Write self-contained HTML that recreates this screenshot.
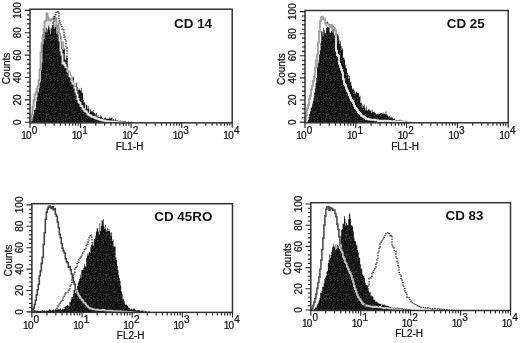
<!DOCTYPE html>
<html><head><meta charset="utf-8"><style>
html,body{margin:0;padding:0;background:#fff;width:520px;height:343px;overflow:hidden}
svg{display:block}
text{font-family:"Liberation Sans",sans-serif;stroke:#111;stroke-width:0.22px}
</style></head><body><svg width="520" height="343" viewBox="0 0 520 343" font-family='"Liberation Sans", sans-serif' fill="#111"><defs><pattern id="spk" width="20" height="20" patternUnits="userSpaceOnUse"><rect width="20" height="20" fill="#121212"/><rect x="1" y="0" width="1" height="1" fill="#323232"/><rect x="2" y="0" width="1" height="1" fill="#383838"/><rect x="5" y="0" width="1" height="1" fill="#2e2e2e"/><rect x="6" y="0" width="1" height="1" fill="#202020"/><rect x="8" y="0" width="1" height="1" fill="#202020"/><rect x="10" y="0" width="1" height="1" fill="#303030"/><rect x="11" y="0" width="1" height="1" fill="#252525"/><rect x="14" y="0" width="1" height="1" fill="#303030"/><rect x="17" y="0" width="1" height="1" fill="#393939"/><rect x="18" y="0" width="1" height="1" fill="#2b2b2b"/><rect x="19" y="0" width="1" height="1" fill="#212121"/><rect x="3" y="1" width="1" height="1" fill="#303030"/><rect x="7" y="1" width="1" height="1" fill="#1f1f1f"/><rect x="15" y="1" width="1" height="1" fill="#232323"/><rect x="17" y="1" width="1" height="1" fill="#303030"/><rect x="3" y="2" width="1" height="1" fill="#2e2e2e"/><rect x="6" y="2" width="1" height="1" fill="#2d2d2d"/><rect x="9" y="2" width="1" height="1" fill="#2f2f2f"/><rect x="1" y="3" width="1" height="1" fill="#343434"/><rect x="13" y="3" width="1" height="1" fill="#272727"/><rect x="14" y="3" width="1" height="1" fill="#252525"/><rect x="18" y="3" width="1" height="1" fill="#2a2a2a"/><rect x="3" y="4" width="1" height="1" fill="#2b2b2b"/><rect x="7" y="4" width="1" height="1" fill="#202020"/><rect x="8" y="4" width="1" height="1" fill="#252525"/><rect x="10" y="4" width="1" height="1" fill="#383838"/><rect x="12" y="4" width="1" height="1" fill="#1e1e1e"/><rect x="13" y="4" width="1" height="1" fill="#2f2f2f"/><rect x="1" y="5" width="1" height="1" fill="#3a3a3a"/><rect x="10" y="5" width="1" height="1" fill="#242424"/><rect x="12" y="5" width="1" height="1" fill="#313131"/><rect x="13" y="5" width="1" height="1" fill="#1e1e1e"/><rect x="18" y="5" width="1" height="1" fill="#242424"/><rect x="0" y="6" width="1" height="1" fill="#262626"/><rect x="4" y="6" width="1" height="1" fill="#2d2d2d"/><rect x="8" y="6" width="1" height="1" fill="#212121"/><rect x="14" y="6" width="1" height="1" fill="#2e2e2e"/><rect x="19" y="6" width="1" height="1" fill="#323232"/><rect x="2" y="7" width="1" height="1" fill="#292929"/><rect x="5" y="7" width="1" height="1" fill="#2f2f2f"/><rect x="8" y="7" width="1" height="1" fill="#373737"/><rect x="11" y="7" width="1" height="1" fill="#252525"/><rect x="14" y="7" width="1" height="1" fill="#2e2e2e"/><rect x="0" y="8" width="1" height="1" fill="#313131"/><rect x="7" y="8" width="1" height="1" fill="#252525"/><rect x="13" y="8" width="1" height="1" fill="#323232"/><rect x="17" y="8" width="1" height="1" fill="#2a2a2a"/><rect x="1" y="9" width="1" height="1" fill="#373737"/><rect x="3" y="9" width="1" height="1" fill="#353535"/><rect x="8" y="9" width="1" height="1" fill="#222222"/><rect x="9" y="9" width="1" height="1" fill="#303030"/><rect x="12" y="9" width="1" height="1" fill="#383838"/><rect x="16" y="9" width="1" height="1" fill="#2f2f2f"/><rect x="17" y="9" width="1" height="1" fill="#1e1e1e"/><rect x="0" y="10" width="1" height="1" fill="#353535"/><rect x="5" y="10" width="1" height="1" fill="#262626"/><rect x="6" y="10" width="1" height="1" fill="#2e2e2e"/><rect x="7" y="10" width="1" height="1" fill="#303030"/><rect x="11" y="10" width="1" height="1" fill="#353535"/><rect x="1" y="11" width="1" height="1" fill="#2c2c2c"/><rect x="5" y="11" width="1" height="1" fill="#222222"/><rect x="13" y="11" width="1" height="1" fill="#2f2f2f"/><rect x="14" y="11" width="1" height="1" fill="#242424"/><rect x="15" y="11" width="1" height="1" fill="#363636"/><rect x="16" y="11" width="1" height="1" fill="#2c2c2c"/><rect x="12" y="12" width="1" height="1" fill="#2f2f2f"/><rect x="14" y="12" width="1" height="1" fill="#2c2c2c"/><rect x="15" y="12" width="1" height="1" fill="#212121"/><rect x="0" y="13" width="1" height="1" fill="#272727"/><rect x="3" y="13" width="1" height="1" fill="#343434"/><rect x="6" y="13" width="1" height="1" fill="#222222"/><rect x="8" y="13" width="1" height="1" fill="#212121"/><rect x="13" y="13" width="1" height="1" fill="#2b2b2b"/><rect x="18" y="13" width="1" height="1" fill="#292929"/><rect x="19" y="13" width="1" height="1" fill="#2f2f2f"/><rect x="4" y="14" width="1" height="1" fill="#202020"/><rect x="5" y="14" width="1" height="1" fill="#373737"/><rect x="6" y="14" width="1" height="1" fill="#3a3a3a"/><rect x="7" y="14" width="1" height="1" fill="#262626"/><rect x="8" y="14" width="1" height="1" fill="#3a3a3a"/><rect x="10" y="14" width="1" height="1" fill="#222222"/><rect x="0" y="15" width="1" height="1" fill="#373737"/><rect x="3" y="15" width="1" height="1" fill="#1e1e1e"/><rect x="6" y="15" width="1" height="1" fill="#393939"/><rect x="7" y="15" width="1" height="1" fill="#262626"/><rect x="13" y="15" width="1" height="1" fill="#222222"/><rect x="14" y="15" width="1" height="1" fill="#343434"/><rect x="15" y="15" width="1" height="1" fill="#212121"/><rect x="17" y="15" width="1" height="1" fill="#232323"/><rect x="18" y="15" width="1" height="1" fill="#272727"/><rect x="1" y="16" width="1" height="1" fill="#2c2c2c"/><rect x="3" y="16" width="1" height="1" fill="#292929"/><rect x="6" y="16" width="1" height="1" fill="#1e1e1e"/><rect x="9" y="16" width="1" height="1" fill="#2d2d2d"/><rect x="10" y="16" width="1" height="1" fill="#2c2c2c"/><rect x="11" y="16" width="1" height="1" fill="#383838"/><rect x="18" y="16" width="1" height="1" fill="#252525"/><rect x="5" y="17" width="1" height="1" fill="#222222"/><rect x="6" y="17" width="1" height="1" fill="#323232"/><rect x="8" y="17" width="1" height="1" fill="#232323"/><rect x="9" y="17" width="1" height="1" fill="#333333"/><rect x="13" y="17" width="1" height="1" fill="#252525"/><rect x="15" y="17" width="1" height="1" fill="#232323"/><rect x="16" y="17" width="1" height="1" fill="#2c2c2c"/><rect x="17" y="17" width="1" height="1" fill="#292929"/><rect x="1" y="18" width="1" height="1" fill="#3a3a3a"/><rect x="4" y="18" width="1" height="1" fill="#2a2a2a"/><rect x="5" y="18" width="1" height="1" fill="#262626"/><rect x="7" y="18" width="1" height="1" fill="#2e2e2e"/><rect x="9" y="18" width="1" height="1" fill="#383838"/><rect x="10" y="18" width="1" height="1" fill="#2a2a2a"/><rect x="13" y="18" width="1" height="1" fill="#323232"/><rect x="14" y="18" width="1" height="1" fill="#303030"/><rect x="17" y="18" width="1" height="1" fill="#3a3a3a"/><rect x="3" y="19" width="1" height="1" fill="#353535"/><rect x="5" y="19" width="1" height="1" fill="#383838"/><rect x="11" y="19" width="1" height="1" fill="#2e2e2e"/><rect x="15" y="19" width="1" height="1" fill="#333333"/></pattern><clipPath id="c1"><path d="M30.50,122.85L30.50,122.14L31.20,122.14L31.20,120.42L31.90,120.42L31.90,119.17L32.60,119.17L32.60,117.18L33.30,117.18L33.30,114.39L34.00,114.39L34.00,110.09L34.70,110.09L34.70,109.66L35.40,109.66L35.40,108.19L36.10,108.19L36.10,101.48L36.80,101.48L36.80,97.28L37.50,97.28L37.50,90.70L38.20,90.70L38.20,92.72L38.90,92.72L38.90,88.36L39.60,88.36L39.60,82.94L40.30,82.94L40.30,81.61L41.00,81.61L41.00,69.97L41.70,69.97L41.70,62.40L42.40,62.40L42.40,33.98L43.10,33.98L43.10,38.42L43.80,38.42L43.80,37.26L44.50,37.26L44.50,29.41L45.20,29.41L45.20,32.24L45.90,32.24L45.90,27.65L46.60,27.65L46.60,32.70L47.30,32.70L47.30,29.36L48.00,29.36L48.00,25.43L48.70,25.43L48.70,27.10L49.40,27.10L49.40,29.85L50.10,29.85L50.10,35.12L50.80,35.12L50.80,27.70L51.50,27.70L51.50,28.80L52.20,28.80L52.20,25.14L52.90,25.14L52.90,27.09L53.60,27.09L53.60,23.32L54.30,23.32L54.30,28.69L55.00,28.69L55.00,27.29L55.70,27.29L55.70,24.98L56.40,24.98L56.40,33.73L57.10,33.73L57.10,31.28L57.80,31.28L57.80,32.85L58.50,32.85L58.50,22.82L59.20,22.82L59.20,34.25L59.90,34.25L59.90,33.30L60.60,33.30L60.60,35.66L61.30,35.66L61.30,41.65L62.00,41.65L62.00,49.12L62.70,49.12L62.70,41.25L63.40,41.25L63.40,49.81L64.10,49.81L64.10,48.34L64.80,48.34L64.80,59.69L65.50,59.69L65.50,59.64L66.20,59.64L66.20,56.23L66.90,56.23L66.90,58.50L67.60,58.50L67.60,71.12L68.30,71.12L68.30,73.91L69.00,73.91L69.00,72.25L69.70,72.25L69.70,71.46L70.40,71.46L70.40,74.83L71.10,74.83L71.10,75.86L71.80,75.86L71.80,81.36L72.50,81.36L72.50,77.53L73.20,77.53L73.20,77.04L73.90,77.04L73.90,82.92L74.60,82.92L74.60,87.01L75.30,87.01L75.30,86.08L76.00,86.08L76.00,82.60L76.70,82.60L76.70,90.66L77.40,90.66L77.40,86.76L78.10,86.76L78.10,90.13L78.80,90.13L78.80,88.62L79.50,88.62L79.50,90.11L80.20,90.11L80.20,90.58L80.90,90.58L80.90,87.86L81.60,87.86L81.60,92.73L82.30,92.73L82.30,93.37L83.00,93.37L83.00,99.72L83.70,99.72L83.70,103.09L84.40,103.09L84.40,102.07L85.10,102.07L85.10,109.55L85.80,109.55L85.80,104.58L86.50,104.58L86.50,104.99L87.20,104.99L87.20,108.51L87.90,108.51L87.90,106.06L88.60,106.06L88.60,108.77L89.30,108.77L89.30,112.94L90.00,112.94L90.00,109.60L90.70,109.60L90.70,111.56L91.40,111.56L91.40,111.44L92.10,111.44L92.10,111.50L92.80,111.50L92.80,109.97L93.50,109.97L93.50,112.44L94.20,112.44L94.20,113.32L94.90,113.32L94.90,113.40L95.60,113.40L95.60,116.83L96.30,116.83L96.30,113.02L97.00,113.02L97.00,116.48L97.70,116.48L97.70,114.85L98.40,114.85L98.40,117.19L99.10,117.19L99.10,117.34L99.80,117.34L99.80,116.97L100.50,116.97L100.50,114.67L101.20,114.67L101.20,116.44L101.90,116.44L101.90,118.03L102.60,118.03L102.60,117.75L103.30,117.75L103.30,118.77L104.00,118.77L104.00,117.63L104.70,117.63L104.70,118.29L105.40,118.29L105.40,116.98L106.10,116.98L106.10,119.26L106.80,119.26L106.80,118.26L107.50,118.26L107.50,118.86L108.20,118.86L108.20,118.88L108.90,118.88L108.90,117.61L109.60,117.61L109.60,118.39L110.30,118.39L110.30,118.13L111.00,118.13L111.00,117.76L111.70,117.76L111.70,118.00L112.40,118.00L112.40,120.47L113.10,120.47L113.10,118.96L113.80,118.96L113.80,121.11L114.50,121.11L114.50,119.84L115.20,119.84L115.20,118.42L115.90,118.42L115.90,120.28L116.60,120.28L116.60,120.58L117.30,120.58L117.30,120.35L118.00,120.35L118.00,120.64L118.70,120.64L118.70,120.80L119.40,120.80L119.40,121.48L120.10,121.48L120.10,120.50L120.80,120.50L120.80,120.79L121.50,120.79L121.50,121.50L122.20,121.50L122.20,121.26L122.90,121.26L122.90,121.13L123.60,121.13L123.60,121.00L124.30,121.00L124.30,121.41L125.00,121.41L125.00,121.33L125.70,121.33L125.70,121.87L126.40,121.87L126.40,122.32L127.10,122.32L127.10,122.10L127.80,122.10L127.80,121.46L128.50,121.46L128.50,121.56L129.20,121.56L129.20,122.00L129.90,122.00L129.90,122.37L130.60,122.37L130.60,122.11L131.30,122.11L131.30,121.73L132.00,121.73L132.00,121.96L132.70,121.96L132.70,122.67L133.40,122.67L133.40,122.57L134.10,122.57L134.10,122.85L134.80,122.85L134.80,122.85L135.00,122.85L135.00,122.85Z"/></clipPath><clipPath id="c2"><path d="M306.50,122.80L306.50,122.41L307.20,122.41L307.20,121.50L307.90,121.50L307.90,119.90L308.60,119.90L308.60,116.94L309.30,116.94L309.30,113.92L310.00,113.92L310.00,111.60L310.70,111.60L310.70,107.36L311.40,107.36L311.40,107.75L312.10,107.75L312.10,103.70L312.80,103.70L312.80,101.21L313.50,101.21L313.50,97.63L314.20,97.63L314.20,92.81L314.90,92.81L314.90,88.24L315.60,88.24L315.60,83.00L316.30,83.00L316.30,77.89L317.00,77.89L317.00,67.60L317.70,67.60L317.70,60.02L318.40,60.02L318.40,63.20L319.10,63.20L319.10,54.75L319.80,54.75L319.80,50.20L320.50,50.20L320.50,43.15L321.20,43.15L321.20,31.10L321.90,31.10L321.90,31.64L322.60,31.64L322.60,36.20L323.30,36.20L323.30,28.05L324.00,28.05L324.00,30.34L324.70,30.34L324.70,33.53L325.40,33.53L325.40,32.73L326.10,32.73L326.10,27.99L326.80,27.99L326.80,21.43L327.50,21.43L327.50,22.47L328.20,22.47L328.20,25.43L328.90,25.43L328.90,24.03L329.60,24.03L329.60,32.60L330.30,32.60L330.30,32.63L331.00,32.63L331.00,30.81L331.70,30.81L331.70,26.44L332.40,26.44L332.40,32.30L333.10,32.30L333.10,25.80L333.80,25.80L333.80,35.38L334.50,35.38L334.50,35.17L335.20,35.17L335.20,32.72L335.90,32.72L335.90,36.13L336.60,36.13L336.60,36.39L337.30,36.39L337.30,34.05L338.00,34.05L338.00,35.14L338.70,35.14L338.70,39.85L339.40,39.85L339.40,43.83L340.10,43.83L340.10,41.23L340.80,41.23L340.80,45.95L341.50,45.95L341.50,49.73L342.20,49.73L342.20,48.18L342.90,48.18L342.90,57.41L343.60,57.41L343.60,57.72L344.30,57.72L344.30,59.69L345.00,59.69L345.00,64.53L345.70,64.53L345.70,68.29L346.40,68.29L346.40,68.31L347.10,68.31L347.10,72.83L347.80,72.83L347.80,75.27L348.50,75.27L348.50,78.60L349.20,78.60L349.20,75.89L349.90,75.89L349.90,82.56L350.60,82.56L350.60,81.50L351.30,81.50L351.30,85.71L352.00,85.71L352.00,89.18L352.70,89.18L352.70,88.13L353.40,88.13L353.40,89.67L354.10,89.67L354.10,90.71L354.80,90.71L354.80,94.32L355.50,94.32L355.50,92.37L356.20,92.37L356.20,91.62L356.90,91.62L356.90,93.15L357.60,93.15L357.60,93.02L358.30,93.02L358.30,93.14L359.00,93.14L359.00,96.70L359.70,96.70L359.70,95.80L360.40,95.80L360.40,103.10L361.10,103.10L361.10,102.72L361.80,102.72L361.80,107.69L362.50,107.69L362.50,104.50L363.20,104.50L363.20,106.21L363.90,106.21L363.90,104.49L364.60,104.49L364.60,107.69L365.30,107.69L365.30,110.29L366.00,110.29L366.00,106.41L366.70,106.41L366.70,110.20L367.40,110.20L367.40,110.52L368.10,110.52L368.10,109.57L368.80,109.57L368.80,109.02L369.50,109.02L369.50,110.82L370.20,110.82L370.20,110.43L370.90,110.43L370.90,113.20L371.60,113.20L371.60,109.39L372.30,109.39L372.30,111.79L373.00,111.79L373.00,111.93L373.70,111.93L373.70,111.77L374.40,111.77L374.40,112.57L375.10,112.57L375.10,112.88L375.80,112.88L375.80,114.40L376.50,114.40L376.50,113.90L377.20,113.90L377.20,113.70L377.90,113.70L377.90,113.46L378.60,113.46L378.60,114.51L379.30,114.51L379.30,113.98L380.00,113.98L380.00,113.41L380.70,113.41L380.70,112.84L381.40,112.84L381.40,112.90L382.10,112.90L382.10,113.44L382.80,113.44L382.80,113.99L383.50,113.99L383.50,112.60L384.20,112.60L384.20,113.72L384.90,113.72L384.90,114.28L385.60,114.28L385.60,111.21L386.30,111.21L386.30,114.19L387.00,114.19L387.00,114.69L387.70,114.69L387.70,115.79L388.40,115.79L388.40,117.24L389.10,117.24L389.10,115.89L389.80,115.89L389.80,117.35L390.50,117.35L390.50,117.69L391.20,117.69L391.20,117.32L391.90,117.32L391.90,117.71L392.60,117.71L392.60,118.61L393.30,118.61L393.30,119.11L394.00,119.11L394.00,118.18L394.70,118.18L394.70,119.49L395.40,119.49L395.40,120.62L396.10,120.62L396.10,119.72L396.80,119.72L396.80,120.15L397.50,120.15L397.50,120.30L398.20,120.30L398.20,120.06L398.90,120.06L398.90,120.38L399.60,120.38L399.60,119.59L400.30,119.59L400.30,120.59L401.00,120.59L401.00,120.66L401.70,120.66L401.70,120.35L402.40,120.35L402.40,121.26L403.10,121.26L403.10,120.68L403.80,120.68L403.80,121.26L404.50,121.26L404.50,120.87L405.20,120.87L405.20,121.80L405.90,121.80L405.90,121.43L406.60,121.43L406.60,122.26L407.30,122.26L407.30,121.96L408.00,121.96L408.00,121.92L408.70,121.92L408.70,121.90L409.40,121.90L409.40,121.63L410.10,121.63L410.10,121.80L410.80,121.80L410.80,122.65L411.50,122.65L411.50,122.58L412.20,122.58L412.20,122.28L412.90,122.28L412.90,122.52L413.60,122.52L413.60,122.80L414.30,122.80L414.30,122.72L415.00,122.72L415.00,122.80L415.00,122.80L415.00,122.80Z"/></clipPath><clipPath id="c3"><path d="M33.00,312.40L33.00,311.82L33.70,311.82L33.70,309.99L34.40,309.99L34.40,310.55L35.10,310.55L35.10,310.52L35.80,310.52L35.80,310.70L36.50,310.70L36.50,310.79L37.20,310.79L37.20,310.66L37.90,310.66L37.90,310.92L38.60,310.92L38.60,311.20L39.30,311.20L39.30,311.25L40.00,311.25L40.00,311.35L40.70,311.35L40.70,310.73L41.40,310.73L41.40,310.58L42.10,310.58L42.10,310.11L42.80,310.11L42.80,310.57L43.50,310.57L43.50,310.66L44.20,310.66L44.20,310.48L44.90,310.48L44.90,310.74L45.60,310.74L45.60,311.51L46.30,311.51L46.30,310.13L47.00,310.13L47.00,310.76L47.70,310.76L47.70,310.38L48.40,310.38L48.40,310.55L49.10,310.55L49.10,308.95L49.80,308.95L49.80,309.74L50.50,309.74L50.50,310.04L51.20,310.04L51.20,310.76L51.90,310.76L51.90,309.66L52.60,309.66L52.60,310.53L53.30,310.53L53.30,309.38L54.00,309.38L54.00,310.75L54.70,310.75L54.70,309.92L55.40,309.92L55.40,309.30L56.10,309.30L56.10,310.23L56.80,310.23L56.80,309.62L57.50,309.62L57.50,309.53L58.20,309.53L58.20,309.01L58.90,309.01L58.90,309.78L59.60,309.78L59.60,309.02L60.30,309.02L60.30,308.00L61.00,308.00L61.00,310.03L61.70,310.03L61.70,309.47L62.40,309.47L62.40,308.43L63.10,308.43L63.10,309.00L63.80,309.00L63.80,309.26L64.50,309.26L64.50,306.79L65.20,306.79L65.20,306.62L65.90,306.62L65.90,306.00L66.60,306.00L66.60,305.51L67.30,305.51L67.30,304.92L68.00,304.92L68.00,305.49L68.70,305.49L68.70,306.20L69.40,306.20L69.40,301.80L70.10,301.80L70.10,302.22L70.80,302.22L70.80,299.33L71.50,299.33L71.50,296.75L72.20,296.75L72.20,296.99L72.90,296.99L72.90,293.94L73.60,293.94L73.60,289.65L74.30,289.65L74.30,290.08L75.00,290.08L75.00,293.09L75.70,293.09L75.70,290.07L76.40,290.07L76.40,289.02L77.10,289.02L77.10,285.96L77.80,285.96L77.80,282.74L78.50,282.74L78.50,281.30L79.20,281.30L79.20,278.79L79.90,278.79L79.90,274.62L80.60,274.62L80.60,277.68L81.30,277.68L81.30,270.23L82.00,270.23L82.00,269.90L82.70,269.90L82.70,269.72L83.40,269.72L83.40,267.84L84.10,267.84L84.10,263.80L84.80,263.80L84.80,266.16L85.50,266.16L85.50,266.66L86.20,266.66L86.20,258.04L86.90,258.04L86.90,253.46L87.60,253.46L87.60,255.90L88.30,255.90L88.30,253.61L89.00,253.61L89.00,252.03L89.70,252.03L89.70,252.90L90.40,252.90L90.40,247.50L91.10,247.50L91.10,244.91L91.80,244.91L91.80,245.72L92.50,245.72L92.50,241.78L93.20,241.78L93.20,245.48L93.90,245.48L93.90,238.95L94.60,238.95L94.60,239.23L95.30,239.23L95.30,235.85L96.00,235.85L96.00,231.40L96.70,231.40L96.70,228.44L97.40,228.44L97.40,227.87L98.10,227.87L98.10,231.53L98.80,231.53L98.80,234.39L99.50,234.39L99.50,223.13L100.20,223.13L100.20,230.41L100.90,230.41L100.90,226.12L101.60,226.12L101.60,219.92L102.30,219.92L102.30,220.85L103.00,220.85L103.00,218.93L103.70,218.93L103.70,226.45L104.40,226.45L104.40,228.98L105.10,228.98L105.10,224.99L105.80,224.99L105.80,229.90L106.50,229.90L106.50,231.68L107.20,231.68L107.20,227.87L107.90,227.87L107.90,231.03L108.60,231.03L108.60,229.08L109.30,229.08L109.30,230.63L110.00,230.63L110.00,232.53L110.70,232.53L110.70,236.01L111.40,236.01L111.40,232.52L112.10,232.52L112.10,241.05L112.80,241.05L112.80,239.42L113.50,239.42L113.50,246.44L114.20,246.44L114.20,246.22L114.90,246.22L114.90,246.69L115.60,246.69L115.60,257.54L116.30,257.54L116.30,259.87L117.00,259.87L117.00,266.09L117.70,266.09L117.70,270.25L118.40,270.25L118.40,274.86L119.10,274.86L119.10,278.33L119.80,278.33L119.80,281.05L120.50,281.05L120.50,285.52L121.20,285.52L121.20,291.56L121.90,291.56L121.90,293.95L122.60,293.95L122.60,299.50L123.30,299.50L123.30,298.61L124.00,298.61L124.00,301.28L124.70,301.28L124.70,303.82L125.40,303.82L125.40,304.97L126.10,304.97L126.10,304.41L126.80,304.41L126.80,305.56L127.50,305.56L127.50,305.81L128.20,305.81L128.20,307.40L128.90,307.40L128.90,307.63L129.60,307.63L129.60,308.25L130.30,308.25L130.30,309.37L131.00,309.37L131.00,308.65L131.70,308.65L131.70,308.86L132.40,308.86L132.40,309.43L133.10,309.43L133.10,308.74L133.80,308.74L133.80,308.19L134.50,308.19L134.50,308.88L135.20,308.88L135.20,309.80L135.90,309.80L135.90,310.57L136.60,310.57L136.60,310.17L137.30,310.17L137.30,310.52L138.00,310.52L138.00,310.25L138.70,310.25L138.70,309.88L139.40,309.88L139.40,310.61L140.10,310.61L140.10,311.34L140.80,311.34L140.80,310.20L141.50,310.20L141.50,310.84L142.20,310.84L142.20,310.38L142.90,310.38L142.90,311.38L143.60,311.38L143.60,310.13L144.30,310.13L144.30,311.65L145.00,311.65L145.00,311.22L145.70,311.22L145.70,311.06L146.40,311.06L146.40,312.30L147.10,312.30L147.10,311.76L147.80,311.76L147.80,312.08L148.50,312.08L148.50,311.16L149.20,311.16L149.20,311.55L149.90,311.55L149.90,312.08L150.60,312.08L150.60,312.33L151.30,312.33L151.30,312.38L152.00,312.38L152.00,312.05L152.70,312.05L152.70,312.30L153.40,312.30L153.40,312.20L154.10,312.20L154.10,312.38L154.80,312.38L154.80,312.40L155.00,312.40L155.00,312.40Z"/></clipPath><clipPath id="c4"><path d="M312.50,310.50L312.50,310.50L313.20,310.50L313.20,309.87L313.90,309.87L313.90,309.26L314.60,309.26L314.60,308.49L315.30,308.49L315.30,307.29L316.00,307.29L316.00,307.42L316.70,307.42L316.70,305.19L317.40,305.19L317.40,303.91L318.10,303.91L318.10,302.87L318.80,302.87L318.80,300.26L319.50,300.26L319.50,297.88L320.20,297.88L320.20,292.79L320.90,292.79L320.90,292.98L321.60,292.98L321.60,290.90L322.30,290.90L322.30,286.85L323.00,286.85L323.00,286.81L323.70,286.81L323.70,283.36L324.40,283.36L324.40,278.68L325.10,278.68L325.10,277.61L325.80,277.61L325.80,275.66L326.50,275.66L326.50,272.12L327.20,272.12L327.20,270.82L327.90,270.82L327.90,263.19L328.60,263.19L328.60,260.14L329.30,260.14L329.30,254.48L330.00,254.48L330.00,257.92L330.70,257.92L330.70,254.99L331.40,254.99L331.40,252.10L332.10,252.10L332.10,247.58L332.80,247.58L332.80,245.98L333.50,245.98L333.50,243.51L334.20,243.51L334.20,246.80L334.90,246.80L334.90,250.37L335.60,250.37L335.60,244.19L336.30,244.19L336.30,249.00L337.00,249.00L337.00,244.93L337.70,244.93L337.70,248.21L338.40,248.21L338.40,245.91L339.10,245.91L339.10,249.08L339.80,249.08L339.80,244.16L340.50,244.16L340.50,236.19L341.20,236.19L341.20,230.21L341.90,230.21L341.90,229.15L342.60,229.15L342.60,223.56L343.30,223.56L343.30,223.76L344.00,223.76L344.00,216.06L344.70,216.06L344.70,218.99L345.40,218.99L345.40,225.38L346.10,225.38L346.10,222.93L346.80,222.93L346.80,224.81L347.50,224.81L347.50,225.55L348.20,225.55L348.20,219.13L348.90,219.13L348.90,213.33L349.60,213.33L349.60,214.53L350.30,214.53L350.30,218.67L351.00,218.67L351.00,225.47L351.70,225.47L351.70,225.14L352.40,225.14L352.40,226.80L353.10,226.80L353.10,231.18L353.80,231.18L353.80,237.48L354.50,237.48L354.50,241.01L355.20,241.01L355.20,241.23L355.90,241.23L355.90,245.46L356.60,245.46L356.60,244.49L357.30,244.49L357.30,250.22L358.00,250.22L358.00,252.86L358.70,252.86L358.70,257.45L359.40,257.45L359.40,257.81L360.10,257.81L360.10,264.13L360.80,264.13L360.80,268.50L361.50,268.50L361.50,268.84L362.20,268.84L362.20,274.27L362.90,274.27L362.90,276.09L363.60,276.09L363.60,276.32L364.30,276.32L364.30,278.04L365.00,278.04L365.00,282.70L365.70,282.70L365.70,284.98L366.40,284.98L366.40,284.74L367.10,284.74L367.10,286.06L367.80,286.06L367.80,288.24L368.50,288.24L368.50,291.54L369.20,291.54L369.20,292.41L369.90,292.41L369.90,291.89L370.60,291.89L370.60,295.83L371.30,295.83L371.30,295.85L372.00,295.85L372.00,295.99L372.70,295.99L372.70,297.08L373.40,297.08L373.40,299.50L374.10,299.50L374.10,299.83L374.80,299.83L374.80,300.45L375.50,300.45L375.50,301.97L376.20,301.97L376.20,301.58L376.90,301.58L376.90,302.76L377.60,302.76L377.60,301.86L378.30,301.86L378.30,303.61L379.00,303.61L379.00,303.59L379.70,303.59L379.70,303.90L380.40,303.90L380.40,303.75L381.10,303.75L381.10,305.97L381.80,305.97L381.80,303.78L382.50,303.78L382.50,304.88L383.20,304.88L383.20,304.86L383.90,304.86L383.90,304.34L384.60,304.34L384.60,305.41L385.30,305.41L385.30,305.39L386.00,305.39L386.00,305.81L386.70,305.81L386.70,305.61L387.40,305.61L387.40,305.95L388.10,305.95L388.10,305.93L388.80,305.93L388.80,306.87L389.50,306.87L389.50,307.65L390.20,307.65L390.20,307.16L390.90,307.16L390.90,307.96L391.60,307.96L391.60,307.48L392.30,307.48L392.30,307.72L393.00,307.72L393.00,308.70L393.70,308.70L393.70,307.89L394.40,307.89L394.40,308.29L395.10,308.29L395.10,308.51L395.80,308.51L395.80,308.80L396.50,308.80L396.50,307.86L397.20,307.86L397.20,307.86L397.90,307.86L397.90,308.72L398.60,308.72L398.60,308.76L399.30,308.76L399.30,308.74L400.00,308.74L400.00,308.91L400.70,308.91L400.70,308.32L401.40,308.32L401.40,309.03L402.10,309.03L402.10,308.34L402.80,308.34L402.80,309.71L403.50,309.71L403.50,309.54L404.20,309.54L404.20,308.63L404.90,308.63L404.90,309.15L405.60,309.15L405.60,309.80L406.30,309.80L406.30,308.41L407.00,308.41L407.00,309.01L407.70,309.01L407.70,309.21L408.40,309.21L408.40,310.17L409.10,310.17L409.10,309.19L409.80,309.19L409.80,309.54L410.50,309.54L410.50,309.66L411.20,309.66L411.20,309.79L411.90,309.79L411.90,310.21L412.60,310.21L412.60,310.11L413.30,310.11L413.30,309.79L414.00,309.79L414.00,309.74L414.70,309.74L414.70,309.88L415.40,309.88L415.40,310.01L416.10,310.01L416.10,310.12L416.80,310.12L416.80,310.15L417.50,310.15L417.50,310.00L418.20,310.00L418.20,310.36L418.90,310.36L418.90,310.50L419.60,310.50L419.60,310.49L420.00,310.49L420.00,310.50Z"/></clipPath></defs><g style="filter:blur(0.35px)"><path d="M30.50,122.85L30.50,119.65L31.50,119.65L31.50,114.49L32.50,114.49L32.50,106.79L33.50,106.79L33.50,100.19L34.50,100.19L34.50,94.37L35.50,94.37L35.50,93.31L36.50,93.31L36.50,88.99L37.50,88.99L37.50,86.42L38.50,86.42L38.50,80.92L39.50,80.92L39.50,69.99L40.50,69.99L40.50,52.66L41.50,52.66L41.50,43.43L42.50,43.43L42.50,38.68L43.50,38.68L43.50,28.90L44.50,28.90L44.50,22.11L45.50,22.11L45.50,23.22L46.50,23.22L46.50,12.32L47.50,12.32L47.50,17.74L48.50,17.74L48.50,20.52L49.50,20.52L49.50,20.46L50.50,20.46L50.50,19.53L51.50,19.53L51.50,18.89L52.50,18.89L52.50,19.75L53.50,19.75L53.50,16.61L54.50,16.61L54.50,21.64L55.50,21.64L55.50,17.07L56.50,17.07L56.50,26.52L57.50,26.52L57.50,28.90L58.50,28.90L58.50,33.46L59.50,33.46L59.50,40.27L60.50,40.27L60.50,50.42L61.50,50.42L61.50,54.20L62.50,54.20L62.50,65.76L63.50,65.76L63.50,62.76L64.50,62.76L64.50,65.24L65.50,65.24L65.50,67.72L66.50,67.72L66.50,66.57L67.50,66.57L67.50,71.99L68.50,71.99L68.50,72.45L69.50,72.45L69.50,77.29L70.50,77.29L70.50,76.74L71.50,76.74L71.50,81.92L72.50,81.92L72.50,84.44L73.50,84.44L73.50,82.18L74.50,82.18L74.50,87.32L75.50,87.32L75.50,91.49L76.50,91.49L76.50,94.62L77.50,94.62L77.50,99.58L78.50,99.58L78.50,102.44L79.50,102.44L79.50,102.95L80.50,102.95L80.50,106.66L81.50,106.66L81.50,106.13L82.50,106.13L82.50,109.23L83.50,109.23L83.50,109.28L84.50,109.28L84.50,111.66L85.50,111.66L85.50,110.92L86.50,110.92L86.50,112.18L87.50,112.18L87.50,113.90L88.50,113.90L88.50,115.45L89.50,115.45L89.50,115.52L90.50,115.52L90.50,115.85L91.50,115.85L91.50,117.07L92.50,117.07L92.50,116.82L93.50,116.82L93.50,116.89L94.50,116.89L94.50,117.79L95.50,117.79L95.50,118.35L96.50,118.35L96.50,118.22L97.50,118.22L97.50,119.07L98.50,119.07L98.50,119.02L99.50,119.02L99.50,119.86L100.50,119.86L100.50,119.38L101.50,119.38L101.50,120.24L102.50,120.24L102.50,120.69L103.50,120.69L103.50,120.51L104.50,120.51L104.50,120.93L105.50,120.93L105.50,121.20L106.50,121.20L106.50,121.17L107.50,121.17L107.50,121.14L108.50,121.14L108.50,121.95L109.50,121.95L109.50,121.51L110.50,121.51L110.50,121.61L111.50,121.61L111.50,121.69L112.50,121.69L112.50,121.57L113.50,121.57L113.50,122.10L114.50,122.10L114.50,121.78L115.50,121.78L115.50,122.03L116.50,122.03L116.50,122.05L117.50,122.05L117.50,122.19L118.50,122.19L118.50,122.29L119.50,122.29L119.50,122.40L120.50,122.40L120.50,122.34L121.50,122.34L121.50,122.21L122.50,122.21L122.50,122.43L123.50,122.43L123.50,122.55L124.50,122.55L124.50,122.66L125.00,122.66L125.00,122.85Z" fill="#e4e4e4"/><path d="M30.50,122.85L30.50,119.95L31.50,119.95L31.50,114.34L32.50,114.34L32.50,106.91L33.50,106.91L33.50,100.25L34.50,100.25L34.50,94.72L35.50,94.72L35.50,92.69L36.50,92.69L36.50,88.79L37.50,88.79L37.50,86.05L38.50,86.05L38.50,80.35L39.50,80.35L39.50,69.49L40.50,69.49L40.50,52.32L41.50,52.32L41.50,43.22L42.50,43.22L42.50,38.01L43.50,38.01L43.50,29.23L44.50,29.23L44.50,21.66L45.50,21.66L45.50,20.59L46.50,20.59L46.50,13.31L47.50,13.31L47.50,17.42L48.50,17.42L48.50,19.91L49.50,19.91L49.50,20.67L50.50,20.67L50.50,19.72L51.50,19.72L51.50,18.94L52.50,18.94L52.50,19.05L53.50,19.05L53.50,16.76L54.50,16.76L54.50,20.38L55.50,20.38L55.50,18.24L56.50,18.24L56.50,25.51L57.50,25.51L57.50,28.74L58.50,28.74L58.50,33.48L59.50,33.48L59.50,40.43L60.50,40.43L60.50,50.25L61.50,50.25L61.50,54.52L62.50,54.52L62.50,63.46L63.50,63.46L63.50,62.62L64.50,62.62L64.50,65.06L65.50,65.06L65.50,67.38L66.50,67.38L66.50,67.40L67.50,67.40L67.50,71.35L68.50,71.35L68.50,72.33L69.50,72.33L69.50,76.08L70.50,76.08L70.50,76.82L71.50,76.82L71.50,80.99L72.50,80.99L72.50,83.57L73.50,83.57L73.50,83.28L74.50,83.28L74.50,87.59L75.50,87.59L75.50,91.43L76.50,91.43L76.50,94.64L77.50,94.64L77.50,98.95L78.50,98.95L78.50,102.00L79.50,102.00L79.50,103.06L80.50,103.06L80.50,105.89L81.50,105.89L81.50,106.17L82.50,106.17L82.50,108.64L83.50,108.64L83.50,109.28L84.50,109.28L84.50,111.31L85.50,111.31L85.50,111.35L86.50,111.35L86.50,112.41L87.50,112.41L87.50,113.74L88.50,113.74L88.50,114.97L89.50,114.97L89.50,115.31L90.50,115.31L90.50,115.81L91.50,115.81L91.50,116.84L92.50,116.84L92.50,116.85L93.50,116.85L93.50,117.05L94.50,117.05L94.50,117.75L95.50,117.75L95.50,118.25L96.50,118.25L96.50,118.33L97.50,118.33L97.50,119.00L98.50,119.00L98.50,119.13L99.50,119.13L99.50,119.80L100.50,119.80L100.50,119.59L101.50,119.59L101.50,120.18L102.50,120.18L102.50,120.53L103.50,120.53L103.50,120.51L104.50,120.51L104.50,120.84L105.50,120.84L105.50,121.08L106.50,121.08L106.50,121.14L107.50,121.14L107.50,121.21L108.50,121.21L108.50,121.72L109.50,121.72L109.50,121.49L110.50,121.49L110.50,121.59L111.50,121.59L111.50,121.67L112.50,121.67L112.50,121.63L113.50,121.63L113.50,121.98L114.50,121.98L114.50,121.82L115.50,121.82L115.50,122.01L116.50,122.01L116.50,122.05L117.50,122.05L117.50,122.17L118.50,122.17L118.50,122.26L119.50,122.26L119.50,122.36L120.50,122.36L120.50,122.36L121.50,122.36L121.50,122.31L122.50,122.31L122.50,122.48L123.50,122.48L123.50,122.58L124.50,122.58L124.50,122.68L125.00,122.68L125.00,122.85" fill="none" stroke="#9a9a9a" stroke-width="1.8"/><path d="M44.00,122.85L44.00,112.96L45.00,112.96L45.00,92.77L46.00,92.77L46.00,76.27L47.00,76.27L47.00,59.56L48.00,59.56L48.00,48.77L49.00,48.77L49.00,43.78L50.00,43.78L50.00,36.41L51.00,36.41L51.00,33.26L52.00,33.26L52.00,28.29L53.00,28.29L53.00,22.17L54.00,22.17L54.00,16.62L55.00,16.62L55.00,14.91L56.00,14.91L56.00,11.73L57.00,11.73L57.00,11.94L58.00,11.94L58.00,12.25L59.00,12.25L59.00,20.88L60.00,20.88L60.00,23.27L61.00,23.27L61.00,26.64L62.00,26.64L62.00,29.94L63.00,29.94L63.00,29.82L64.00,29.82L64.00,37.15L65.00,37.15L65.00,39.36L66.00,39.36L66.00,47.48L67.00,47.48L67.00,81.05L68.00,81.05L68.00,122.85" fill="none" stroke="#2a2a2a" stroke-width="1.2" stroke-dasharray="1.5 1.2"/><path d="M30.50,122.85L30.50,122.14L31.20,122.14L31.20,120.42L31.90,120.42L31.90,119.17L32.60,119.17L32.60,117.18L33.30,117.18L33.30,114.39L34.00,114.39L34.00,110.09L34.70,110.09L34.70,109.66L35.40,109.66L35.40,108.19L36.10,108.19L36.10,101.48L36.80,101.48L36.80,97.28L37.50,97.28L37.50,90.70L38.20,90.70L38.20,92.72L38.90,92.72L38.90,88.36L39.60,88.36L39.60,82.94L40.30,82.94L40.30,81.61L41.00,81.61L41.00,69.97L41.70,69.97L41.70,62.40L42.40,62.40L42.40,33.98L43.10,33.98L43.10,38.42L43.80,38.42L43.80,37.26L44.50,37.26L44.50,29.41L45.20,29.41L45.20,32.24L45.90,32.24L45.90,27.65L46.60,27.65L46.60,32.70L47.30,32.70L47.30,29.36L48.00,29.36L48.00,25.43L48.70,25.43L48.70,27.10L49.40,27.10L49.40,29.85L50.10,29.85L50.10,35.12L50.80,35.12L50.80,27.70L51.50,27.70L51.50,28.80L52.20,28.80L52.20,25.14L52.90,25.14L52.90,27.09L53.60,27.09L53.60,23.32L54.30,23.32L54.30,28.69L55.00,28.69L55.00,27.29L55.70,27.29L55.70,24.98L56.40,24.98L56.40,33.73L57.10,33.73L57.10,31.28L57.80,31.28L57.80,32.85L58.50,32.85L58.50,22.82L59.20,22.82L59.20,34.25L59.90,34.25L59.90,33.30L60.60,33.30L60.60,35.66L61.30,35.66L61.30,41.65L62.00,41.65L62.00,49.12L62.70,49.12L62.70,41.25L63.40,41.25L63.40,49.81L64.10,49.81L64.10,48.34L64.80,48.34L64.80,59.69L65.50,59.69L65.50,59.64L66.20,59.64L66.20,56.23L66.90,56.23L66.90,58.50L67.60,58.50L67.60,71.12L68.30,71.12L68.30,73.91L69.00,73.91L69.00,72.25L69.70,72.25L69.70,71.46L70.40,71.46L70.40,74.83L71.10,74.83L71.10,75.86L71.80,75.86L71.80,81.36L72.50,81.36L72.50,77.53L73.20,77.53L73.20,77.04L73.90,77.04L73.90,82.92L74.60,82.92L74.60,87.01L75.30,87.01L75.30,86.08L76.00,86.08L76.00,82.60L76.70,82.60L76.70,90.66L77.40,90.66L77.40,86.76L78.10,86.76L78.10,90.13L78.80,90.13L78.80,88.62L79.50,88.62L79.50,90.11L80.20,90.11L80.20,90.58L80.90,90.58L80.90,87.86L81.60,87.86L81.60,92.73L82.30,92.73L82.30,93.37L83.00,93.37L83.00,99.72L83.70,99.72L83.70,103.09L84.40,103.09L84.40,102.07L85.10,102.07L85.10,109.55L85.80,109.55L85.80,104.58L86.50,104.58L86.50,104.99L87.20,104.99L87.20,108.51L87.90,108.51L87.90,106.06L88.60,106.06L88.60,108.77L89.30,108.77L89.30,112.94L90.00,112.94L90.00,109.60L90.70,109.60L90.70,111.56L91.40,111.56L91.40,111.44L92.10,111.44L92.10,111.50L92.80,111.50L92.80,109.97L93.50,109.97L93.50,112.44L94.20,112.44L94.20,113.32L94.90,113.32L94.90,113.40L95.60,113.40L95.60,116.83L96.30,116.83L96.30,113.02L97.00,113.02L97.00,116.48L97.70,116.48L97.70,114.85L98.40,114.85L98.40,117.19L99.10,117.19L99.10,117.34L99.80,117.34L99.80,116.97L100.50,116.97L100.50,114.67L101.20,114.67L101.20,116.44L101.90,116.44L101.90,118.03L102.60,118.03L102.60,117.75L103.30,117.75L103.30,118.77L104.00,118.77L104.00,117.63L104.70,117.63L104.70,118.29L105.40,118.29L105.40,116.98L106.10,116.98L106.10,119.26L106.80,119.26L106.80,118.26L107.50,118.26L107.50,118.86L108.20,118.86L108.20,118.88L108.90,118.88L108.90,117.61L109.60,117.61L109.60,118.39L110.30,118.39L110.30,118.13L111.00,118.13L111.00,117.76L111.70,117.76L111.70,118.00L112.40,118.00L112.40,120.47L113.10,120.47L113.10,118.96L113.80,118.96L113.80,121.11L114.50,121.11L114.50,119.84L115.20,119.84L115.20,118.42L115.90,118.42L115.90,120.28L116.60,120.28L116.60,120.58L117.30,120.58L117.30,120.35L118.00,120.35L118.00,120.64L118.70,120.64L118.70,120.80L119.40,120.80L119.40,121.48L120.10,121.48L120.10,120.50L120.80,120.50L120.80,120.79L121.50,120.79L121.50,121.50L122.20,121.50L122.20,121.26L122.90,121.26L122.90,121.13L123.60,121.13L123.60,121.00L124.30,121.00L124.30,121.41L125.00,121.41L125.00,121.33L125.70,121.33L125.70,121.87L126.40,121.87L126.40,122.32L127.10,122.32L127.10,122.10L127.80,122.10L127.80,121.46L128.50,121.46L128.50,121.56L129.20,121.56L129.20,122.00L129.90,122.00L129.90,122.37L130.60,122.37L130.60,122.11L131.30,122.11L131.30,121.73L132.00,121.73L132.00,121.96L132.70,121.96L132.70,122.67L133.40,122.67L133.40,122.57L134.10,122.57L134.10,122.85L134.80,122.85L134.80,122.85L135.00,122.85L135.00,122.85Z" fill="url(#spk)"/><path d="M30.50,122.85L30.50,119.95L31.50,119.95L31.50,114.34L32.50,114.34L32.50,106.91L33.50,106.91L33.50,100.25L34.50,100.25L34.50,94.72L35.50,94.72L35.50,92.69L36.50,92.69L36.50,88.79L37.50,88.79L37.50,86.05L38.50,86.05L38.50,80.35L39.50,80.35L39.50,69.49L40.50,69.49L40.50,52.32L41.50,52.32L41.50,43.22L42.50,43.22L42.50,38.01L43.50,38.01L43.50,29.23L44.50,29.23L44.50,21.66L45.50,21.66L45.50,20.59L46.50,20.59L46.50,13.31L47.50,13.31L47.50,17.42L48.50,17.42L48.50,19.91L49.50,19.91L49.50,20.67L50.50,20.67L50.50,19.72L51.50,19.72L51.50,18.94L52.50,18.94L52.50,19.05L53.50,19.05L53.50,16.76L54.50,16.76L54.50,20.38L55.50,20.38L55.50,18.24L56.50,18.24L56.50,25.51L57.50,25.51L57.50,28.74L58.50,28.74L58.50,33.48L59.50,33.48L59.50,40.43L60.50,40.43L60.50,50.25L61.50,50.25L61.50,54.52L62.50,54.52L62.50,63.46L63.50,63.46L63.50,62.62L64.50,62.62L64.50,65.06L65.50,65.06L65.50,67.38L66.50,67.38L66.50,67.40L67.50,67.40L67.50,71.35L68.50,71.35L68.50,72.33L69.50,72.33L69.50,76.08L70.50,76.08L70.50,76.82L71.50,76.82L71.50,80.99L72.50,80.99L72.50,83.57L73.50,83.57L73.50,83.28L74.50,83.28L74.50,87.59L75.50,87.59L75.50,91.43L76.50,91.43L76.50,94.64L77.50,94.64L77.50,98.95L78.50,98.95L78.50,102.00L79.50,102.00L79.50,103.06L80.50,103.06L80.50,105.89L81.50,105.89L81.50,106.17L82.50,106.17L82.50,108.64L83.50,108.64L83.50,109.28L84.50,109.28L84.50,111.31L85.50,111.31L85.50,111.35L86.50,111.35L86.50,112.41L87.50,112.41L87.50,113.74L88.50,113.74L88.50,114.97L89.50,114.97L89.50,115.31L90.50,115.31L90.50,115.81L91.50,115.81L91.50,116.84L92.50,116.84L92.50,116.85L93.50,116.85L93.50,117.05L94.50,117.05L94.50,117.75L95.50,117.75L95.50,118.25L96.50,118.25L96.50,118.33L97.50,118.33L97.50,119.00L98.50,119.00L98.50,119.13L99.50,119.13L99.50,119.80L100.50,119.80L100.50,119.59L101.50,119.59L101.50,120.18L102.50,120.18L102.50,120.53L103.50,120.53L103.50,120.51L104.50,120.51L104.50,120.84L105.50,120.84L105.50,121.08L106.50,121.08L106.50,121.14L107.50,121.14L107.50,121.21L108.50,121.21L108.50,121.72L109.50,121.72L109.50,121.49L110.50,121.49L110.50,121.59L111.50,121.59L111.50,121.67L112.50,121.67L112.50,121.63L113.50,121.63L113.50,121.98L114.50,121.98L114.50,121.82L115.50,121.82L115.50,122.01L116.50,122.01L116.50,122.05L117.50,122.05L117.50,122.17L118.50,122.17L118.50,122.26L119.50,122.26L119.50,122.36L120.50,122.36L120.50,122.36L121.50,122.36L121.50,122.31L122.50,122.31L122.50,122.48L123.50,122.48L123.50,122.58L124.50,122.58L124.50,122.68L125.00,122.68L125.00,122.85" fill="none" stroke="#e6e6e6" stroke-width="1.9" clip-path="url(#c1)"/><rect x="30.00" y="9.20" width="202.20" height="113.65" fill="none" stroke="#333" stroke-width="1.5"/><path d="M24.70,122.30H30.00M27.00,117.82H30.00M27.00,113.35H30.00M27.00,108.87H30.00M27.00,104.40H30.00M24.70,99.92H30.00M27.00,95.44H30.00M27.00,90.97H30.00M27.00,86.49H30.00M27.00,82.02H30.00M24.70,77.54H30.00M27.00,73.06H30.00M27.00,68.59H30.00M27.00,64.11H30.00M27.00,59.64H30.00M24.70,55.16H30.00M27.00,50.68H30.00M27.00,46.21H30.00M27.00,41.73H30.00M27.00,37.26H30.00M24.70,32.78H30.00M27.00,28.30H30.00M27.00,23.83H30.00M27.00,19.35H30.00M27.00,14.88H30.00M24.70,10.40H30.00M30.00,122.85V128.05M45.22,122.85V125.85M54.12,122.85V125.85M60.43,122.85V125.85M65.33,122.85V125.85M69.34,122.85V125.85M72.72,122.85V125.85M75.65,122.85V125.85M78.24,122.85V125.85M80.55,122.85V128.05M95.77,122.85V125.85M104.67,122.85V125.85M110.98,122.85V125.85M115.88,122.85V125.85M119.89,122.85V125.85M123.27,122.85V125.85M126.20,122.85V125.85M128.79,122.85V125.85M131.10,122.85V128.05M146.32,122.85V125.85M155.22,122.85V125.85M161.53,122.85V125.85M166.43,122.85V125.85M170.44,122.85V125.85M173.82,122.85V125.85M176.75,122.85V125.85M179.34,122.85V125.85M181.65,122.85V128.05M196.87,122.85V125.85M205.77,122.85V125.85M212.08,122.85V125.85M216.98,122.85V125.85M220.99,122.85V125.85M224.37,122.85V125.85M227.30,122.85V125.85M229.89,122.85V125.85M232.20,122.85V127.85" stroke="#222" stroke-width="1.1" fill="none"/><text x="20.90" y="122.30" font-size="10" font-weight="normal" text-anchor="middle" transform="rotate(-90 20.90 122.30)">0</text><text x="20.90" y="99.92" font-size="10" font-weight="normal" text-anchor="middle" transform="rotate(-90 20.90 99.92)">20</text><text x="20.90" y="77.54" font-size="10" font-weight="normal" text-anchor="middle" transform="rotate(-90 20.90 77.54)">40</text><text x="20.90" y="55.16" font-size="10" font-weight="normal" text-anchor="middle" transform="rotate(-90 20.90 55.16)">60</text><text x="20.90" y="32.78" font-size="10" font-weight="normal" text-anchor="middle" transform="rotate(-90 20.90 32.78)">80</text><text x="20.90" y="10.40" font-size="10" font-weight="normal" text-anchor="middle" transform="rotate(-90 20.90 10.40)">100</text><text x="10.20" y="68.52" font-size="10" font-weight="normal" text-anchor="middle" transform="rotate(-90 10.20 68.52)">Counts</text><text x="26.00" y="139.45" font-size="10" letter-spacing="-0.7" text-anchor="middle">10</text><text x="34.50" y="133.65" font-size="10" text-anchor="middle">0</text><text x="76.55" y="139.45" font-size="10" letter-spacing="-0.7" text-anchor="middle">10</text><text x="85.05" y="133.65" font-size="10" text-anchor="middle">1</text><text x="127.10" y="139.45" font-size="10" letter-spacing="-0.7" text-anchor="middle">10</text><text x="135.60" y="133.65" font-size="10" text-anchor="middle">2</text><text x="177.65" y="139.45" font-size="10" letter-spacing="-0.7" text-anchor="middle">10</text><text x="186.15" y="133.65" font-size="10" text-anchor="middle">3</text><text x="228.20" y="139.45" font-size="10" letter-spacing="-0.7" text-anchor="middle">10</text><text x="236.70" y="133.65" font-size="10" text-anchor="middle">4</text><text x="129.60" y="149.65" font-size="10" font-weight="normal" text-anchor="middle">FL1-H</text><text x="174.10" y="28.30" font-size="13.4" font-weight="bold" text-anchor="start" style="stroke:none">CD 14</text><path d="M305.00,122.80L305.00,120.46L306.00,120.46L306.00,114.90L307.00,114.90L307.00,108.20L308.00,108.20L308.00,104.84L309.00,104.84L309.00,99.13L310.00,99.13L310.00,95.90L311.00,95.90L311.00,89.50L312.00,89.50L312.00,85.94L313.00,85.94L313.00,80.88L314.00,80.88L314.00,76.86L315.00,76.86L315.00,67.60L316.00,67.60L316.00,60.34L317.00,60.34L317.00,54.37L318.00,54.37L318.00,42.61L319.00,42.61L319.00,31.45L320.00,31.45L320.00,21.14L321.00,21.14L321.00,17.12L322.00,17.12L322.00,16.63L323.00,16.63L323.00,19.40L324.00,19.40L324.00,18.35L325.00,18.35L325.00,22.93L326.00,22.93L326.00,24.92L327.00,24.92L327.00,24.46L328.00,24.46L328.00,25.77L329.00,25.77L329.00,26.34L330.00,26.34L330.00,27.04L331.00,27.04L331.00,24.86L332.00,24.86L332.00,27.67L333.00,27.67L333.00,27.96L334.00,27.96L334.00,27.84L335.00,27.84L335.00,30.52L336.00,30.52L336.00,50.63L337.00,50.63L337.00,55.02L338.00,55.02L338.00,56.02L339.00,56.02L339.00,63.76L340.00,63.76L340.00,66.75L341.00,66.75L341.00,69.88L342.00,69.88L342.00,72.58L343.00,72.58L343.00,79.17L344.00,79.17L344.00,84.14L345.00,84.14L345.00,85.24L346.00,85.24L346.00,88.50L347.00,88.50L347.00,90.81L348.00,90.81L348.00,92.65L349.00,92.65L349.00,95.23L350.00,95.23L350.00,97.60L351.00,97.60L351.00,100.15L352.00,100.15L352.00,101.19L353.00,101.19L353.00,103.11L354.00,103.11L354.00,105.88L355.00,105.88L355.00,108.04L356.00,108.04L356.00,108.76L357.00,108.76L357.00,110.15L358.00,110.15L358.00,112.03L359.00,112.03L359.00,113.05L360.00,113.05L360.00,113.77L361.00,113.77L361.00,115.43L362.00,115.43L362.00,116.12L363.00,116.12L363.00,116.56L364.00,116.56L364.00,117.25L365.00,117.25L365.00,117.85L366.00,117.85L366.00,118.95L367.00,118.95L367.00,118.67L368.00,118.67L368.00,119.27L369.00,119.27L369.00,119.66L370.00,119.66L370.00,119.41L371.00,119.41L371.00,119.70L372.00,119.70L372.00,119.91L373.00,119.91L373.00,119.85L374.00,119.85L374.00,119.77L375.00,119.77L375.00,120.25L376.00,120.25L376.00,120.22L377.00,120.22L377.00,120.27L378.00,120.27L378.00,120.97L379.00,120.97L379.00,120.92L380.00,120.92L380.00,120.73L381.00,120.73L381.00,121.17L382.00,121.17L382.00,120.97L383.00,120.97L383.00,120.74L384.00,120.74L384.00,120.81L385.00,120.81L385.00,120.92L386.00,120.92L386.00,121.34L387.00,121.34L387.00,120.70L388.00,120.70L388.00,121.02L389.00,121.02L389.00,121.02L390.00,121.02L390.00,121.09L391.00,121.09L391.00,121.46L392.00,121.46L392.00,121.44L393.00,121.44L393.00,121.44L394.00,121.44L394.00,121.00L395.00,121.00L395.00,121.44L396.00,121.44L396.00,121.38L397.00,121.38L397.00,121.41L398.00,121.41L398.00,121.33L399.00,121.33L399.00,121.37L400.00,121.37L400.00,121.43L401.00,121.43L401.00,121.67L402.00,121.67L402.00,122.06L403.00,122.06L403.00,121.79L404.00,121.79L404.00,121.93L405.00,121.93L405.00,121.99L406.00,121.99L406.00,122.27L407.00,122.27L407.00,122.46L408.00,122.46L408.00,122.55L409.00,122.55L409.00,122.78L410.00,122.78L410.00,122.80" fill="none" stroke="#a0a0a0" stroke-width="1.8"/><path d="M306.50,122.80L306.50,122.41L307.20,122.41L307.20,121.50L307.90,121.50L307.90,119.90L308.60,119.90L308.60,116.94L309.30,116.94L309.30,113.92L310.00,113.92L310.00,111.60L310.70,111.60L310.70,107.36L311.40,107.36L311.40,107.75L312.10,107.75L312.10,103.70L312.80,103.70L312.80,101.21L313.50,101.21L313.50,97.63L314.20,97.63L314.20,92.81L314.90,92.81L314.90,88.24L315.60,88.24L315.60,83.00L316.30,83.00L316.30,77.89L317.00,77.89L317.00,67.60L317.70,67.60L317.70,60.02L318.40,60.02L318.40,63.20L319.10,63.20L319.10,54.75L319.80,54.75L319.80,50.20L320.50,50.20L320.50,43.15L321.20,43.15L321.20,31.10L321.90,31.10L321.90,31.64L322.60,31.64L322.60,36.20L323.30,36.20L323.30,28.05L324.00,28.05L324.00,30.34L324.70,30.34L324.70,33.53L325.40,33.53L325.40,32.73L326.10,32.73L326.10,27.99L326.80,27.99L326.80,21.43L327.50,21.43L327.50,22.47L328.20,22.47L328.20,25.43L328.90,25.43L328.90,24.03L329.60,24.03L329.60,32.60L330.30,32.60L330.30,32.63L331.00,32.63L331.00,30.81L331.70,30.81L331.70,26.44L332.40,26.44L332.40,32.30L333.10,32.30L333.10,25.80L333.80,25.80L333.80,35.38L334.50,35.38L334.50,35.17L335.20,35.17L335.20,32.72L335.90,32.72L335.90,36.13L336.60,36.13L336.60,36.39L337.30,36.39L337.30,34.05L338.00,34.05L338.00,35.14L338.70,35.14L338.70,39.85L339.40,39.85L339.40,43.83L340.10,43.83L340.10,41.23L340.80,41.23L340.80,45.95L341.50,45.95L341.50,49.73L342.20,49.73L342.20,48.18L342.90,48.18L342.90,57.41L343.60,57.41L343.60,57.72L344.30,57.72L344.30,59.69L345.00,59.69L345.00,64.53L345.70,64.53L345.70,68.29L346.40,68.29L346.40,68.31L347.10,68.31L347.10,72.83L347.80,72.83L347.80,75.27L348.50,75.27L348.50,78.60L349.20,78.60L349.20,75.89L349.90,75.89L349.90,82.56L350.60,82.56L350.60,81.50L351.30,81.50L351.30,85.71L352.00,85.71L352.00,89.18L352.70,89.18L352.70,88.13L353.40,88.13L353.40,89.67L354.10,89.67L354.10,90.71L354.80,90.71L354.80,94.32L355.50,94.32L355.50,92.37L356.20,92.37L356.20,91.62L356.90,91.62L356.90,93.15L357.60,93.15L357.60,93.02L358.30,93.02L358.30,93.14L359.00,93.14L359.00,96.70L359.70,96.70L359.70,95.80L360.40,95.80L360.40,103.10L361.10,103.10L361.10,102.72L361.80,102.72L361.80,107.69L362.50,107.69L362.50,104.50L363.20,104.50L363.20,106.21L363.90,106.21L363.90,104.49L364.60,104.49L364.60,107.69L365.30,107.69L365.30,110.29L366.00,110.29L366.00,106.41L366.70,106.41L366.70,110.20L367.40,110.20L367.40,110.52L368.10,110.52L368.10,109.57L368.80,109.57L368.80,109.02L369.50,109.02L369.50,110.82L370.20,110.82L370.20,110.43L370.90,110.43L370.90,113.20L371.60,113.20L371.60,109.39L372.30,109.39L372.30,111.79L373.00,111.79L373.00,111.93L373.70,111.93L373.70,111.77L374.40,111.77L374.40,112.57L375.10,112.57L375.10,112.88L375.80,112.88L375.80,114.40L376.50,114.40L376.50,113.90L377.20,113.90L377.20,113.70L377.90,113.70L377.90,113.46L378.60,113.46L378.60,114.51L379.30,114.51L379.30,113.98L380.00,113.98L380.00,113.41L380.70,113.41L380.70,112.84L381.40,112.84L381.40,112.90L382.10,112.90L382.10,113.44L382.80,113.44L382.80,113.99L383.50,113.99L383.50,112.60L384.20,112.60L384.20,113.72L384.90,113.72L384.90,114.28L385.60,114.28L385.60,111.21L386.30,111.21L386.30,114.19L387.00,114.19L387.00,114.69L387.70,114.69L387.70,115.79L388.40,115.79L388.40,117.24L389.10,117.24L389.10,115.89L389.80,115.89L389.80,117.35L390.50,117.35L390.50,117.69L391.20,117.69L391.20,117.32L391.90,117.32L391.90,117.71L392.60,117.71L392.60,118.61L393.30,118.61L393.30,119.11L394.00,119.11L394.00,118.18L394.70,118.18L394.70,119.49L395.40,119.49L395.40,120.62L396.10,120.62L396.10,119.72L396.80,119.72L396.80,120.15L397.50,120.15L397.50,120.30L398.20,120.30L398.20,120.06L398.90,120.06L398.90,120.38L399.60,120.38L399.60,119.59L400.30,119.59L400.30,120.59L401.00,120.59L401.00,120.66L401.70,120.66L401.70,120.35L402.40,120.35L402.40,121.26L403.10,121.26L403.10,120.68L403.80,120.68L403.80,121.26L404.50,121.26L404.50,120.87L405.20,120.87L405.20,121.80L405.90,121.80L405.90,121.43L406.60,121.43L406.60,122.26L407.30,122.26L407.30,121.96L408.00,121.96L408.00,121.92L408.70,121.92L408.70,121.90L409.40,121.90L409.40,121.63L410.10,121.63L410.10,121.80L410.80,121.80L410.80,122.65L411.50,122.65L411.50,122.58L412.20,122.58L412.20,122.28L412.90,122.28L412.90,122.52L413.60,122.52L413.60,122.80L414.30,122.80L414.30,122.72L415.00,122.72L415.00,122.80L415.00,122.80L415.00,122.80Z" fill="url(#spk)"/><path d="M305.00,122.80L305.00,120.46L306.00,120.46L306.00,114.90L307.00,114.90L307.00,108.20L308.00,108.20L308.00,104.84L309.00,104.84L309.00,99.13L310.00,99.13L310.00,95.90L311.00,95.90L311.00,89.50L312.00,89.50L312.00,85.94L313.00,85.94L313.00,80.88L314.00,80.88L314.00,76.86L315.00,76.86L315.00,67.60L316.00,67.60L316.00,60.34L317.00,60.34L317.00,54.37L318.00,54.37L318.00,42.61L319.00,42.61L319.00,31.45L320.00,31.45L320.00,21.14L321.00,21.14L321.00,17.12L322.00,17.12L322.00,16.63L323.00,16.63L323.00,19.40L324.00,19.40L324.00,18.35L325.00,18.35L325.00,22.93L326.00,22.93L326.00,24.92L327.00,24.92L327.00,24.46L328.00,24.46L328.00,25.77L329.00,25.77L329.00,26.34L330.00,26.34L330.00,27.04L331.00,27.04L331.00,24.86L332.00,24.86L332.00,27.67L333.00,27.67L333.00,27.96L334.00,27.96L334.00,27.84L335.00,27.84L335.00,30.52L336.00,30.52L336.00,50.63L337.00,50.63L337.00,55.02L338.00,55.02L338.00,56.02L339.00,56.02L339.00,63.76L340.00,63.76L340.00,66.75L341.00,66.75L341.00,69.88L342.00,69.88L342.00,72.58L343.00,72.58L343.00,79.17L344.00,79.17L344.00,84.14L345.00,84.14L345.00,85.24L346.00,85.24L346.00,88.50L347.00,88.50L347.00,90.81L348.00,90.81L348.00,92.65L349.00,92.65L349.00,95.23L350.00,95.23L350.00,97.60L351.00,97.60L351.00,100.15L352.00,100.15L352.00,101.19L353.00,101.19L353.00,103.11L354.00,103.11L354.00,105.88L355.00,105.88L355.00,108.04L356.00,108.04L356.00,108.76L357.00,108.76L357.00,110.15L358.00,110.15L358.00,112.03L359.00,112.03L359.00,113.05L360.00,113.05L360.00,113.77L361.00,113.77L361.00,115.43L362.00,115.43L362.00,116.12L363.00,116.12L363.00,116.56L364.00,116.56L364.00,117.25L365.00,117.25L365.00,117.85L366.00,117.85L366.00,118.95L367.00,118.95L367.00,118.67L368.00,118.67L368.00,119.27L369.00,119.27L369.00,119.66L370.00,119.66L370.00,119.41L371.00,119.41L371.00,119.70L372.00,119.70L372.00,119.91L373.00,119.91L373.00,119.85L374.00,119.85L374.00,119.77L375.00,119.77L375.00,120.25L376.00,120.25L376.00,120.22L377.00,120.22L377.00,120.27L378.00,120.27L378.00,120.97L379.00,120.97L379.00,120.92L380.00,120.92L380.00,120.73L381.00,120.73L381.00,121.17L382.00,121.17L382.00,120.97L383.00,120.97L383.00,120.74L384.00,120.74L384.00,120.81L385.00,120.81L385.00,120.92L386.00,120.92L386.00,121.34L387.00,121.34L387.00,120.70L388.00,120.70L388.00,121.02L389.00,121.02L389.00,121.02L390.00,121.02L390.00,121.09L391.00,121.09L391.00,121.46L392.00,121.46L392.00,121.44L393.00,121.44L393.00,121.44L394.00,121.44L394.00,121.00L395.00,121.00L395.00,121.44L396.00,121.44L396.00,121.38L397.00,121.38L397.00,121.41L398.00,121.41L398.00,121.33L399.00,121.33L399.00,121.37L400.00,121.37L400.00,121.43L401.00,121.43L401.00,121.67L402.00,121.67L402.00,122.06L403.00,122.06L403.00,121.79L404.00,121.79L404.00,121.93L405.00,121.93L405.00,121.99L406.00,121.99L406.00,122.27L407.00,122.27L407.00,122.46L408.00,122.46L408.00,122.55L409.00,122.55L409.00,122.78L410.00,122.78L410.00,122.80" fill="none" stroke="#e6e6e6" stroke-width="1.9" clip-path="url(#c2)"/><rect x="305.00" y="10.50" width="203.20" height="112.30" fill="none" stroke="#333" stroke-width="1.5"/><path d="M299.70,122.10H305.00M302.00,117.68H305.00M302.00,113.26H305.00M302.00,108.84H305.00M302.00,104.42H305.00M299.70,100.00H305.00M302.00,95.58H305.00M302.00,91.16H305.00M302.00,86.74H305.00M302.00,82.32H305.00M299.70,77.90H305.00M302.00,73.48H305.00M302.00,69.06H305.00M302.00,64.64H305.00M302.00,60.22H305.00M299.70,55.80H305.00M302.00,51.38H305.00M302.00,46.96H305.00M302.00,42.54H305.00M302.00,38.12H305.00M299.70,33.70H305.00M302.00,29.28H305.00M302.00,24.86H305.00M302.00,20.44H305.00M302.00,16.02H305.00M299.70,11.60H305.00M305.00,122.80V128.00M320.29,122.80V125.80M329.24,122.80V125.80M335.58,122.80V125.80M340.51,122.80V125.80M344.53,122.80V125.80M347.93,122.80V125.80M350.88,122.80V125.80M353.48,122.80V125.80M355.80,122.80V128.00M371.09,122.80V125.80M380.04,122.80V125.80M386.38,122.80V125.80M391.31,122.80V125.80M395.33,122.80V125.80M398.73,122.80V125.80M401.68,122.80V125.80M404.28,122.80V125.80M406.60,122.80V128.00M421.89,122.80V125.80M430.84,122.80V125.80M437.18,122.80V125.80M442.11,122.80V125.80M446.13,122.80V125.80M449.53,122.80V125.80M452.48,122.80V125.80M455.08,122.80V125.80M457.40,122.80V128.00M472.69,122.80V125.80M481.64,122.80V125.80M487.98,122.80V125.80M492.91,122.80V125.80M496.93,122.80V125.80M500.33,122.80V125.80M503.28,122.80V125.80M505.88,122.80V125.80M508.20,122.80V127.80" stroke="#222" stroke-width="1.1" fill="none"/><text x="295.90" y="122.10" font-size="10" font-weight="normal" text-anchor="middle" transform="rotate(-90 295.90 122.10)">0</text><text x="295.90" y="100.00" font-size="10" font-weight="normal" text-anchor="middle" transform="rotate(-90 295.90 100.00)">20</text><text x="295.90" y="77.90" font-size="10" font-weight="normal" text-anchor="middle" transform="rotate(-90 295.90 77.90)">40</text><text x="295.90" y="55.80" font-size="10" font-weight="normal" text-anchor="middle" transform="rotate(-90 295.90 55.80)">60</text><text x="295.90" y="33.70" font-size="10" font-weight="normal" text-anchor="middle" transform="rotate(-90 295.90 33.70)">80</text><text x="295.90" y="11.60" font-size="10" font-weight="normal" text-anchor="middle" transform="rotate(-90 295.90 11.60)">100</text><text x="285.20" y="69.15" font-size="10" font-weight="normal" text-anchor="middle" transform="rotate(-90 285.20 69.15)">Counts</text><text x="301.00" y="139.40" font-size="10" letter-spacing="-0.7" text-anchor="middle">10</text><text x="309.50" y="133.60" font-size="10" text-anchor="middle">0</text><text x="351.80" y="139.40" font-size="10" letter-spacing="-0.7" text-anchor="middle">10</text><text x="360.30" y="133.60" font-size="10" text-anchor="middle">1</text><text x="402.60" y="139.40" font-size="10" letter-spacing="-0.7" text-anchor="middle">10</text><text x="411.10" y="133.60" font-size="10" text-anchor="middle">2</text><text x="453.40" y="139.40" font-size="10" letter-spacing="-0.7" text-anchor="middle">10</text><text x="461.90" y="133.60" font-size="10" text-anchor="middle">3</text><text x="504.20" y="139.40" font-size="10" letter-spacing="-0.7" text-anchor="middle">10</text><text x="512.70" y="133.60" font-size="10" text-anchor="middle">4</text><text x="405.10" y="149.60" font-size="10" font-weight="normal" text-anchor="middle">FL1-H</text><text x="446.80" y="28.30" font-size="13.4" font-weight="bold" text-anchor="start" style="stroke:none">CD 25</text><path d="M32.30,312.40L32.30,310.62L33.30,310.62L33.30,308.06L34.30,308.06L34.30,304.55L35.30,304.55L35.30,300.20L36.30,300.20L36.30,294.76L37.30,294.76L37.30,289.69L38.30,289.69L38.30,284.29L39.30,284.29L39.30,275.82L40.30,275.82L40.30,270.91L41.30,270.91L41.30,263.35L42.30,263.35L42.30,257.23L43.30,257.23L43.30,244.39L44.30,244.39L44.30,232.74L45.30,232.74L45.30,219.25L46.30,219.25L46.30,212.36L47.30,212.36L47.30,208.94L48.30,208.94L48.30,206.87L49.30,206.87L49.30,205.98L50.30,205.98L50.30,207.41L51.30,207.41L51.30,208.53L52.30,208.53L52.30,206.79L53.30,206.79L53.30,209.79L54.30,209.79L54.30,208.89L55.30,208.89L55.30,214.32L56.30,214.32L56.30,216.31L57.30,216.31L57.30,222.02L58.30,222.02L58.30,227.81L59.30,227.81L59.30,234.35L60.30,234.35L60.30,237.73L61.30,237.73L61.30,243.77L62.30,243.77L62.30,248.26L63.30,248.26L63.30,251.36L64.30,251.36L64.30,253.16L65.30,253.16L65.30,258.72L66.30,258.72L66.30,261.62L67.30,261.62L67.30,262.84L68.30,262.84L68.30,267.21L69.30,267.21L69.30,266.57L70.30,266.57L70.30,269.86L71.30,269.86L71.30,274.04L72.30,274.04L72.30,277.51L73.30,277.51L73.30,281.73L74.30,281.73L74.30,284.41L75.30,284.41L75.30,289.57L76.30,289.57L76.30,290.57L77.30,290.57L77.30,293.14L78.30,293.14L78.30,295.32L79.30,295.32L79.30,296.88L80.30,296.88L80.30,298.27L81.30,298.27L81.30,299.67L82.30,299.67L82.30,300.60L83.30,300.60L83.30,302.50L84.30,302.50L84.30,303.00L85.30,303.00L85.30,304.28L86.30,304.28L86.30,305.68L87.30,305.68L87.30,306.27L88.30,306.27L88.30,307.43L89.30,307.43L89.30,308.11L90.30,308.11L90.30,308.72L91.30,308.72L91.30,308.56L92.30,308.56L92.30,309.16L93.30,309.16L93.30,309.34L94.30,309.34L94.30,309.46L95.30,309.46L95.30,309.66L96.30,309.66L96.30,309.96L97.30,309.96L97.30,309.48L98.30,309.48L98.30,310.05L99.30,310.05L99.30,310.14L100.30,310.14L100.30,310.26L101.30,310.26L101.30,310.10L102.30,310.10L102.30,309.80L103.30,309.80L103.30,309.90L104.30,309.90L104.30,310.34L105.30,310.34L105.30,310.54L106.30,310.54L106.30,310.65L107.30,310.65L107.30,310.84L108.30,310.84L108.30,310.61L109.30,310.61L109.30,310.78L110.30,310.78L110.30,310.49L111.30,310.49L111.30,310.89L112.30,310.89L112.30,311.04L113.30,311.04L113.30,311.21L114.30,311.21L114.30,311.24L115.30,311.24L115.30,310.94L116.30,310.94L116.30,311.02L117.30,311.02L117.30,311.26L118.30,311.26L118.30,311.36L119.30,311.36L119.30,311.15L120.30,311.15L120.30,311.31L121.30,311.31L121.30,311.32L122.30,311.32L122.30,311.43L123.30,311.43L123.30,311.59L124.30,311.59L124.30,311.77L125.30,311.77L125.30,311.65L126.30,311.65L126.30,311.73L127.30,311.73L127.30,311.81L128.30,311.81L128.30,311.82L129.30,311.82L129.30,311.91L130.30,311.91L130.30,312.10L131.30,312.10L131.30,312.11L132.30,312.11L132.30,312.33L133.30,312.33L133.30,312.28L134.30,312.28L134.30,312.38L135.00,312.38L135.00,312.40" fill="none" stroke="#454545" stroke-width="1.6"/><path d="M55.00,312.40L55.00,311.43L56.00,311.43L56.00,309.29L57.00,309.29L57.00,307.46L58.00,307.46L58.00,305.90L59.00,305.90L59.00,304.78L60.00,304.78L60.00,303.21L61.00,303.21L61.00,301.37L62.00,301.37L62.00,300.22L63.00,300.22L63.00,297.93L64.00,297.93L64.00,296.28L65.00,296.28L65.00,294.20L66.00,294.20L66.00,292.65L67.00,292.65L67.00,292.54L68.00,292.54L68.00,290.03L69.00,290.03L69.00,288.81L70.00,288.81L70.00,284.85L71.00,284.85L71.00,282.50L72.00,282.50L72.00,279.45L73.00,279.45L73.00,275.74L74.00,275.74L74.00,272.30L75.00,272.30L75.00,268.96L76.00,268.96L76.00,266.67L77.00,266.67L77.00,263.62L78.00,263.62L78.00,262.18L79.00,262.18L79.00,259.52L80.00,259.52L80.00,257.59L81.00,257.59L81.00,256.66L82.00,256.66L82.00,253.06L83.00,253.06L83.00,252.86L84.00,252.86L84.00,249.54L85.00,249.54L85.00,248.10L86.00,248.10L86.00,245.73L87.00,245.73L87.00,244.04L88.00,244.04L88.00,240.01L89.00,240.01L89.00,236.27L90.00,236.27L90.00,234.80L91.00,234.80L91.00,236.16L92.00,236.16L92.00,312.40" fill="none" stroke="#2a2a2a" stroke-width="1.2" stroke-dasharray="1.5 1.2"/><path d="M33.00,312.40L33.00,311.82L33.70,311.82L33.70,309.99L34.40,309.99L34.40,310.55L35.10,310.55L35.10,310.52L35.80,310.52L35.80,310.70L36.50,310.70L36.50,310.79L37.20,310.79L37.20,310.66L37.90,310.66L37.90,310.92L38.60,310.92L38.60,311.20L39.30,311.20L39.30,311.25L40.00,311.25L40.00,311.35L40.70,311.35L40.70,310.73L41.40,310.73L41.40,310.58L42.10,310.58L42.10,310.11L42.80,310.11L42.80,310.57L43.50,310.57L43.50,310.66L44.20,310.66L44.20,310.48L44.90,310.48L44.90,310.74L45.60,310.74L45.60,311.51L46.30,311.51L46.30,310.13L47.00,310.13L47.00,310.76L47.70,310.76L47.70,310.38L48.40,310.38L48.40,310.55L49.10,310.55L49.10,308.95L49.80,308.95L49.80,309.74L50.50,309.74L50.50,310.04L51.20,310.04L51.20,310.76L51.90,310.76L51.90,309.66L52.60,309.66L52.60,310.53L53.30,310.53L53.30,309.38L54.00,309.38L54.00,310.75L54.70,310.75L54.70,309.92L55.40,309.92L55.40,309.30L56.10,309.30L56.10,310.23L56.80,310.23L56.80,309.62L57.50,309.62L57.50,309.53L58.20,309.53L58.20,309.01L58.90,309.01L58.90,309.78L59.60,309.78L59.60,309.02L60.30,309.02L60.30,308.00L61.00,308.00L61.00,310.03L61.70,310.03L61.70,309.47L62.40,309.47L62.40,308.43L63.10,308.43L63.10,309.00L63.80,309.00L63.80,309.26L64.50,309.26L64.50,306.79L65.20,306.79L65.20,306.62L65.90,306.62L65.90,306.00L66.60,306.00L66.60,305.51L67.30,305.51L67.30,304.92L68.00,304.92L68.00,305.49L68.70,305.49L68.70,306.20L69.40,306.20L69.40,301.80L70.10,301.80L70.10,302.22L70.80,302.22L70.80,299.33L71.50,299.33L71.50,296.75L72.20,296.75L72.20,296.99L72.90,296.99L72.90,293.94L73.60,293.94L73.60,289.65L74.30,289.65L74.30,290.08L75.00,290.08L75.00,293.09L75.70,293.09L75.70,290.07L76.40,290.07L76.40,289.02L77.10,289.02L77.10,285.96L77.80,285.96L77.80,282.74L78.50,282.74L78.50,281.30L79.20,281.30L79.20,278.79L79.90,278.79L79.90,274.62L80.60,274.62L80.60,277.68L81.30,277.68L81.30,270.23L82.00,270.23L82.00,269.90L82.70,269.90L82.70,269.72L83.40,269.72L83.40,267.84L84.10,267.84L84.10,263.80L84.80,263.80L84.80,266.16L85.50,266.16L85.50,266.66L86.20,266.66L86.20,258.04L86.90,258.04L86.90,253.46L87.60,253.46L87.60,255.90L88.30,255.90L88.30,253.61L89.00,253.61L89.00,252.03L89.70,252.03L89.70,252.90L90.40,252.90L90.40,247.50L91.10,247.50L91.10,244.91L91.80,244.91L91.80,245.72L92.50,245.72L92.50,241.78L93.20,241.78L93.20,245.48L93.90,245.48L93.90,238.95L94.60,238.95L94.60,239.23L95.30,239.23L95.30,235.85L96.00,235.85L96.00,231.40L96.70,231.40L96.70,228.44L97.40,228.44L97.40,227.87L98.10,227.87L98.10,231.53L98.80,231.53L98.80,234.39L99.50,234.39L99.50,223.13L100.20,223.13L100.20,230.41L100.90,230.41L100.90,226.12L101.60,226.12L101.60,219.92L102.30,219.92L102.30,220.85L103.00,220.85L103.00,218.93L103.70,218.93L103.70,226.45L104.40,226.45L104.40,228.98L105.10,228.98L105.10,224.99L105.80,224.99L105.80,229.90L106.50,229.90L106.50,231.68L107.20,231.68L107.20,227.87L107.90,227.87L107.90,231.03L108.60,231.03L108.60,229.08L109.30,229.08L109.30,230.63L110.00,230.63L110.00,232.53L110.70,232.53L110.70,236.01L111.40,236.01L111.40,232.52L112.10,232.52L112.10,241.05L112.80,241.05L112.80,239.42L113.50,239.42L113.50,246.44L114.20,246.44L114.20,246.22L114.90,246.22L114.90,246.69L115.60,246.69L115.60,257.54L116.30,257.54L116.30,259.87L117.00,259.87L117.00,266.09L117.70,266.09L117.70,270.25L118.40,270.25L118.40,274.86L119.10,274.86L119.10,278.33L119.80,278.33L119.80,281.05L120.50,281.05L120.50,285.52L121.20,285.52L121.20,291.56L121.90,291.56L121.90,293.95L122.60,293.95L122.60,299.50L123.30,299.50L123.30,298.61L124.00,298.61L124.00,301.28L124.70,301.28L124.70,303.82L125.40,303.82L125.40,304.97L126.10,304.97L126.10,304.41L126.80,304.41L126.80,305.56L127.50,305.56L127.50,305.81L128.20,305.81L128.20,307.40L128.90,307.40L128.90,307.63L129.60,307.63L129.60,308.25L130.30,308.25L130.30,309.37L131.00,309.37L131.00,308.65L131.70,308.65L131.70,308.86L132.40,308.86L132.40,309.43L133.10,309.43L133.10,308.74L133.80,308.74L133.80,308.19L134.50,308.19L134.50,308.88L135.20,308.88L135.20,309.80L135.90,309.80L135.90,310.57L136.60,310.57L136.60,310.17L137.30,310.17L137.30,310.52L138.00,310.52L138.00,310.25L138.70,310.25L138.70,309.88L139.40,309.88L139.40,310.61L140.10,310.61L140.10,311.34L140.80,311.34L140.80,310.20L141.50,310.20L141.50,310.84L142.20,310.84L142.20,310.38L142.90,310.38L142.90,311.38L143.60,311.38L143.60,310.13L144.30,310.13L144.30,311.65L145.00,311.65L145.00,311.22L145.70,311.22L145.70,311.06L146.40,311.06L146.40,312.30L147.10,312.30L147.10,311.76L147.80,311.76L147.80,312.08L148.50,312.08L148.50,311.16L149.20,311.16L149.20,311.55L149.90,311.55L149.90,312.08L150.60,312.08L150.60,312.33L151.30,312.33L151.30,312.38L152.00,312.38L152.00,312.05L152.70,312.05L152.70,312.30L153.40,312.30L153.40,312.20L154.10,312.20L154.10,312.38L154.80,312.38L154.80,312.40L155.00,312.40L155.00,312.40Z" fill="url(#spk)"/><path d="M32.30,312.40L32.30,310.62L33.30,310.62L33.30,308.06L34.30,308.06L34.30,304.55L35.30,304.55L35.30,300.20L36.30,300.20L36.30,294.76L37.30,294.76L37.30,289.69L38.30,289.69L38.30,284.29L39.30,284.29L39.30,275.82L40.30,275.82L40.30,270.91L41.30,270.91L41.30,263.35L42.30,263.35L42.30,257.23L43.30,257.23L43.30,244.39L44.30,244.39L44.30,232.74L45.30,232.74L45.30,219.25L46.30,219.25L46.30,212.36L47.30,212.36L47.30,208.94L48.30,208.94L48.30,206.87L49.30,206.87L49.30,205.98L50.30,205.98L50.30,207.41L51.30,207.41L51.30,208.53L52.30,208.53L52.30,206.79L53.30,206.79L53.30,209.79L54.30,209.79L54.30,208.89L55.30,208.89L55.30,214.32L56.30,214.32L56.30,216.31L57.30,216.31L57.30,222.02L58.30,222.02L58.30,227.81L59.30,227.81L59.30,234.35L60.30,234.35L60.30,237.73L61.30,237.73L61.30,243.77L62.30,243.77L62.30,248.26L63.30,248.26L63.30,251.36L64.30,251.36L64.30,253.16L65.30,253.16L65.30,258.72L66.30,258.72L66.30,261.62L67.30,261.62L67.30,262.84L68.30,262.84L68.30,267.21L69.30,267.21L69.30,266.57L70.30,266.57L70.30,269.86L71.30,269.86L71.30,274.04L72.30,274.04L72.30,277.51L73.30,277.51L73.30,281.73L74.30,281.73L74.30,284.41L75.30,284.41L75.30,289.57L76.30,289.57L76.30,290.57L77.30,290.57L77.30,293.14L78.30,293.14L78.30,295.32L79.30,295.32L79.30,296.88L80.30,296.88L80.30,298.27L81.30,298.27L81.30,299.67L82.30,299.67L82.30,300.60L83.30,300.60L83.30,302.50L84.30,302.50L84.30,303.00L85.30,303.00L85.30,304.28L86.30,304.28L86.30,305.68L87.30,305.68L87.30,306.27L88.30,306.27L88.30,307.43L89.30,307.43L89.30,308.11L90.30,308.11L90.30,308.72L91.30,308.72L91.30,308.56L92.30,308.56L92.30,309.16L93.30,309.16L93.30,309.34L94.30,309.34L94.30,309.46L95.30,309.46L95.30,309.66L96.30,309.66L96.30,309.96L97.30,309.96L97.30,309.48L98.30,309.48L98.30,310.05L99.30,310.05L99.30,310.14L100.30,310.14L100.30,310.26L101.30,310.26L101.30,310.10L102.30,310.10L102.30,309.80L103.30,309.80L103.30,309.90L104.30,309.90L104.30,310.34L105.30,310.34L105.30,310.54L106.30,310.54L106.30,310.65L107.30,310.65L107.30,310.84L108.30,310.84L108.30,310.61L109.30,310.61L109.30,310.78L110.30,310.78L110.30,310.49L111.30,310.49L111.30,310.89L112.30,310.89L112.30,311.04L113.30,311.04L113.30,311.21L114.30,311.21L114.30,311.24L115.30,311.24L115.30,310.94L116.30,310.94L116.30,311.02L117.30,311.02L117.30,311.26L118.30,311.26L118.30,311.36L119.30,311.36L119.30,311.15L120.30,311.15L120.30,311.31L121.30,311.31L121.30,311.32L122.30,311.32L122.30,311.43L123.30,311.43L123.30,311.59L124.30,311.59L124.30,311.77L125.30,311.77L125.30,311.65L126.30,311.65L126.30,311.73L127.30,311.73L127.30,311.81L128.30,311.81L128.30,311.82L129.30,311.82L129.30,311.91L130.30,311.91L130.30,312.10L131.30,312.10L131.30,312.11L132.30,312.11L132.30,312.33L133.30,312.33L133.30,312.28L134.30,312.28L134.30,312.38L135.00,312.38L135.00,312.40" fill="none" stroke="#c4c4c4" stroke-width="1.6" clip-path="url(#c3)"/><rect x="31.90" y="203.70" width="200.60" height="108.70" fill="none" stroke="#333" stroke-width="1.5"/><path d="M26.60,311.90H31.90M28.90,307.62H31.90M28.90,303.34H31.90M28.90,299.06H31.90M28.90,294.78H31.90M26.60,290.50H31.90M28.90,286.22H31.90M28.90,281.94H31.90M28.90,277.66H31.90M28.90,273.38H31.90M26.60,269.10H31.90M28.90,264.82H31.90M28.90,260.54H31.90M28.90,256.26H31.90M28.90,251.98H31.90M26.60,247.70H31.90M28.90,243.42H31.90M28.90,239.14H31.90M28.90,234.86H31.90M28.90,230.58H31.90M26.60,226.30H31.90M28.90,222.02H31.90M28.90,217.74H31.90M28.90,213.46H31.90M28.90,209.18H31.90M26.60,204.90H31.90M31.90,312.40V317.60M47.00,312.40V315.40M55.83,312.40V315.40M62.09,312.40V315.40M66.95,312.40V315.40M70.92,312.40V315.40M74.28,312.40V315.40M77.19,312.40V315.40M79.76,312.40V315.40M82.05,312.40V317.60M97.15,312.40V315.40M105.98,312.40V315.40M112.24,312.40V315.40M117.10,312.40V315.40M121.07,312.40V315.40M124.43,312.40V315.40M127.34,312.40V315.40M129.91,312.40V315.40M132.20,312.40V317.60M147.30,312.40V315.40M156.13,312.40V315.40M162.39,312.40V315.40M167.25,312.40V315.40M171.22,312.40V315.40M174.58,312.40V315.40M177.49,312.40V315.40M180.06,312.40V315.40M182.35,312.40V317.60M197.45,312.40V315.40M206.28,312.40V315.40M212.54,312.40V315.40M217.40,312.40V315.40M221.37,312.40V315.40M224.73,312.40V315.40M227.64,312.40V315.40M230.21,312.40V315.40M232.50,312.40V317.40" stroke="#222" stroke-width="1.1" fill="none"/><text x="22.80" y="311.90" font-size="10" font-weight="normal" text-anchor="middle" transform="rotate(-90 22.80 311.90)">0</text><text x="22.80" y="290.50" font-size="10" font-weight="normal" text-anchor="middle" transform="rotate(-90 22.80 290.50)">20</text><text x="22.80" y="269.10" font-size="10" font-weight="normal" text-anchor="middle" transform="rotate(-90 22.80 269.10)">40</text><text x="22.80" y="247.70" font-size="10" font-weight="normal" text-anchor="middle" transform="rotate(-90 22.80 247.70)">60</text><text x="22.80" y="226.30" font-size="10" font-weight="normal" text-anchor="middle" transform="rotate(-90 22.80 226.30)">80</text><text x="22.80" y="204.90" font-size="10" font-weight="normal" text-anchor="middle" transform="rotate(-90 22.80 204.90)">100</text><text x="12.10" y="260.55" font-size="10" font-weight="normal" text-anchor="middle" transform="rotate(-90 12.10 260.55)">Counts</text><text x="27.90" y="329.00" font-size="10" letter-spacing="-0.7" text-anchor="middle">10</text><text x="36.40" y="323.20" font-size="10" text-anchor="middle">0</text><text x="78.05" y="329.00" font-size="10" letter-spacing="-0.7" text-anchor="middle">10</text><text x="86.55" y="323.20" font-size="10" text-anchor="middle">1</text><text x="128.20" y="329.00" font-size="10" letter-spacing="-0.7" text-anchor="middle">10</text><text x="136.70" y="323.20" font-size="10" text-anchor="middle">2</text><text x="178.35" y="329.00" font-size="10" letter-spacing="-0.7" text-anchor="middle">10</text><text x="186.85" y="323.20" font-size="10" text-anchor="middle">3</text><text x="228.50" y="329.00" font-size="10" letter-spacing="-0.7" text-anchor="middle">10</text><text x="237.00" y="323.20" font-size="10" text-anchor="middle">4</text><text x="130.70" y="339.20" font-size="10" font-weight="normal" text-anchor="middle">FL2-H</text><text x="154.30" y="221.00" font-size="13.4" font-weight="bold" text-anchor="start" style="stroke:none">CD 45RO</text><path d="M310.90,310.50L310.90,309.85L311.90,309.85L311.90,308.21L312.90,308.21L312.90,305.54L313.90,305.54L313.90,302.11L314.90,302.11L314.90,298.69L315.90,298.69L315.90,293.83L316.90,293.83L316.90,288.35L317.90,288.35L317.90,282.55L318.90,282.55L318.90,277.09L319.90,277.09L319.90,269.28L320.90,269.28L320.90,260.11L321.90,260.11L321.90,249.77L322.90,249.77L322.90,238.09L323.90,238.09L323.90,225.17L324.90,225.17L324.90,215.83L325.90,215.83L325.90,209.20L326.90,209.20L326.90,207.16L327.90,207.16L327.90,206.53L328.90,206.53L328.90,210.18L329.90,210.18L329.90,207.59L330.90,207.59L330.90,208.95L331.90,208.95L331.90,208.59L332.90,208.59L332.90,210.26L333.90,210.26L333.90,210.14L334.90,210.14L334.90,213.53L335.90,213.53L335.90,216.65L336.90,216.65L336.90,224.09L337.90,224.09L337.90,229.29L338.90,229.29L338.90,236.64L339.90,236.64L339.90,244.80L340.90,244.80L340.90,250.35L341.90,250.35L341.90,252.52L342.90,252.52L342.90,256.83L343.90,256.83L343.90,258.60L344.90,258.60L344.90,262.26L345.90,262.26L345.90,263.48L346.90,263.48L346.90,266.86L347.90,266.86L347.90,268.98L348.90,268.98L348.90,271.72L349.90,271.72L349.90,273.15L350.90,273.15L350.90,275.65L351.90,275.65L351.90,279.24L352.90,279.24L352.90,282.38L353.90,282.38L353.90,286.09L354.90,286.09L354.90,289.14L355.90,289.14L355.90,291.59L356.90,291.59L356.90,294.87L357.90,294.87L357.90,296.94L358.90,296.94L358.90,298.59L359.90,298.59L359.90,300.07L360.90,300.07L360.90,301.24L361.90,301.24L361.90,302.94L362.90,302.94L362.90,304.17L363.90,304.17L363.90,304.61L364.90,304.61L364.90,305.59L365.90,305.59L365.90,305.27L366.90,305.27L366.90,305.84L367.90,305.84L367.90,305.81L368.90,305.81L368.90,306.29L369.90,306.29L369.90,306.42L370.90,306.42L370.90,306.58L371.90,306.58L371.90,306.63L372.90,306.63L372.90,307.14L373.90,307.14L373.90,307.16L374.90,307.16L374.90,306.63L375.90,306.63L375.90,306.92L376.90,306.92L376.90,307.23L377.90,307.23L377.90,307.32L378.90,307.32L378.90,307.43L379.90,307.43L379.90,306.78L380.90,306.78L380.90,307.46L381.90,307.46L381.90,307.68L382.90,307.68L382.90,307.92L383.90,307.92L383.90,308.35L384.90,308.35L384.90,307.98L385.90,307.98L385.90,307.86L386.90,307.86L386.90,308.05L387.90,308.05L387.90,308.28L388.90,308.28L388.90,308.54L389.90,308.54L389.90,308.73L390.90,308.73L390.90,308.60L391.90,308.60L391.90,308.76L392.90,308.76L392.90,308.95L393.90,308.95L393.90,308.60L394.90,308.60L394.90,309.07L395.90,309.07L395.90,309.09L396.90,309.09L396.90,309.43L397.90,309.43L397.90,308.94L398.90,308.94L398.90,309.28L399.90,309.28L399.90,309.36L400.90,309.36L400.90,309.43L401.90,309.43L401.90,309.69L402.90,309.69L402.90,309.78L403.90,309.78L403.90,309.80L404.90,309.80L404.90,310.02L405.90,310.02L405.90,310.04L406.90,310.04L406.90,310.11L407.90,310.11L407.90,310.27L408.90,310.27L408.90,310.38L409.90,310.38L409.90,310.50L410.00,310.50L410.00,310.50" fill="none" stroke="#505050" stroke-width="1.6"/><path d="M312.50,310.50L312.50,310.50L313.20,310.50L313.20,309.87L313.90,309.87L313.90,309.26L314.60,309.26L314.60,308.49L315.30,308.49L315.30,307.29L316.00,307.29L316.00,307.42L316.70,307.42L316.70,305.19L317.40,305.19L317.40,303.91L318.10,303.91L318.10,302.87L318.80,302.87L318.80,300.26L319.50,300.26L319.50,297.88L320.20,297.88L320.20,292.79L320.90,292.79L320.90,292.98L321.60,292.98L321.60,290.90L322.30,290.90L322.30,286.85L323.00,286.85L323.00,286.81L323.70,286.81L323.70,283.36L324.40,283.36L324.40,278.68L325.10,278.68L325.10,277.61L325.80,277.61L325.80,275.66L326.50,275.66L326.50,272.12L327.20,272.12L327.20,270.82L327.90,270.82L327.90,263.19L328.60,263.19L328.60,260.14L329.30,260.14L329.30,254.48L330.00,254.48L330.00,257.92L330.70,257.92L330.70,254.99L331.40,254.99L331.40,252.10L332.10,252.10L332.10,247.58L332.80,247.58L332.80,245.98L333.50,245.98L333.50,243.51L334.20,243.51L334.20,246.80L334.90,246.80L334.90,250.37L335.60,250.37L335.60,244.19L336.30,244.19L336.30,249.00L337.00,249.00L337.00,244.93L337.70,244.93L337.70,248.21L338.40,248.21L338.40,245.91L339.10,245.91L339.10,249.08L339.80,249.08L339.80,244.16L340.50,244.16L340.50,236.19L341.20,236.19L341.20,230.21L341.90,230.21L341.90,229.15L342.60,229.15L342.60,223.56L343.30,223.56L343.30,223.76L344.00,223.76L344.00,216.06L344.70,216.06L344.70,218.99L345.40,218.99L345.40,225.38L346.10,225.38L346.10,222.93L346.80,222.93L346.80,224.81L347.50,224.81L347.50,225.55L348.20,225.55L348.20,219.13L348.90,219.13L348.90,213.33L349.60,213.33L349.60,214.53L350.30,214.53L350.30,218.67L351.00,218.67L351.00,225.47L351.70,225.47L351.70,225.14L352.40,225.14L352.40,226.80L353.10,226.80L353.10,231.18L353.80,231.18L353.80,237.48L354.50,237.48L354.50,241.01L355.20,241.01L355.20,241.23L355.90,241.23L355.90,245.46L356.60,245.46L356.60,244.49L357.30,244.49L357.30,250.22L358.00,250.22L358.00,252.86L358.70,252.86L358.70,257.45L359.40,257.45L359.40,257.81L360.10,257.81L360.10,264.13L360.80,264.13L360.80,268.50L361.50,268.50L361.50,268.84L362.20,268.84L362.20,274.27L362.90,274.27L362.90,276.09L363.60,276.09L363.60,276.32L364.30,276.32L364.30,278.04L365.00,278.04L365.00,282.70L365.70,282.70L365.70,284.98L366.40,284.98L366.40,284.74L367.10,284.74L367.10,286.06L367.80,286.06L367.80,288.24L368.50,288.24L368.50,291.54L369.20,291.54L369.20,292.41L369.90,292.41L369.90,291.89L370.60,291.89L370.60,295.83L371.30,295.83L371.30,295.85L372.00,295.85L372.00,295.99L372.70,295.99L372.70,297.08L373.40,297.08L373.40,299.50L374.10,299.50L374.10,299.83L374.80,299.83L374.80,300.45L375.50,300.45L375.50,301.97L376.20,301.97L376.20,301.58L376.90,301.58L376.90,302.76L377.60,302.76L377.60,301.86L378.30,301.86L378.30,303.61L379.00,303.61L379.00,303.59L379.70,303.59L379.70,303.90L380.40,303.90L380.40,303.75L381.10,303.75L381.10,305.97L381.80,305.97L381.80,303.78L382.50,303.78L382.50,304.88L383.20,304.88L383.20,304.86L383.90,304.86L383.90,304.34L384.60,304.34L384.60,305.41L385.30,305.41L385.30,305.39L386.00,305.39L386.00,305.81L386.70,305.81L386.70,305.61L387.40,305.61L387.40,305.95L388.10,305.95L388.10,305.93L388.80,305.93L388.80,306.87L389.50,306.87L389.50,307.65L390.20,307.65L390.20,307.16L390.90,307.16L390.90,307.96L391.60,307.96L391.60,307.48L392.30,307.48L392.30,307.72L393.00,307.72L393.00,308.70L393.70,308.70L393.70,307.89L394.40,307.89L394.40,308.29L395.10,308.29L395.10,308.51L395.80,308.51L395.80,308.80L396.50,308.80L396.50,307.86L397.20,307.86L397.20,307.86L397.90,307.86L397.90,308.72L398.60,308.72L398.60,308.76L399.30,308.76L399.30,308.74L400.00,308.74L400.00,308.91L400.70,308.91L400.70,308.32L401.40,308.32L401.40,309.03L402.10,309.03L402.10,308.34L402.80,308.34L402.80,309.71L403.50,309.71L403.50,309.54L404.20,309.54L404.20,308.63L404.90,308.63L404.90,309.15L405.60,309.15L405.60,309.80L406.30,309.80L406.30,308.41L407.00,308.41L407.00,309.01L407.70,309.01L407.70,309.21L408.40,309.21L408.40,310.17L409.10,310.17L409.10,309.19L409.80,309.19L409.80,309.54L410.50,309.54L410.50,309.66L411.20,309.66L411.20,309.79L411.90,309.79L411.90,310.21L412.60,310.21L412.60,310.11L413.30,310.11L413.30,309.79L414.00,309.79L414.00,309.74L414.70,309.74L414.70,309.88L415.40,309.88L415.40,310.01L416.10,310.01L416.10,310.12L416.80,310.12L416.80,310.15L417.50,310.15L417.50,310.00L418.20,310.00L418.20,310.36L418.90,310.36L418.90,310.50L419.60,310.50L419.60,310.49L420.00,310.49L420.00,310.50Z" fill="url(#spk)"/><path d="M310.90,310.50L310.90,309.85L311.90,309.85L311.90,308.21L312.90,308.21L312.90,305.54L313.90,305.54L313.90,302.11L314.90,302.11L314.90,298.69L315.90,298.69L315.90,293.83L316.90,293.83L316.90,288.35L317.90,288.35L317.90,282.55L318.90,282.55L318.90,277.09L319.90,277.09L319.90,269.28L320.90,269.28L320.90,260.11L321.90,260.11L321.90,249.77L322.90,249.77L322.90,238.09L323.90,238.09L323.90,225.17L324.90,225.17L324.90,215.83L325.90,215.83L325.90,209.20L326.90,209.20L326.90,207.16L327.90,207.16L327.90,206.53L328.90,206.53L328.90,210.18L329.90,210.18L329.90,207.59L330.90,207.59L330.90,208.95L331.90,208.95L331.90,208.59L332.90,208.59L332.90,210.26L333.90,210.26L333.90,210.14L334.90,210.14L334.90,213.53L335.90,213.53L335.90,216.65L336.90,216.65L336.90,224.09L337.90,224.09L337.90,229.29L338.90,229.29L338.90,236.64L339.90,236.64L339.90,244.80L340.90,244.80L340.90,250.35L341.90,250.35L341.90,252.52L342.90,252.52L342.90,256.83L343.90,256.83L343.90,258.60L344.90,258.60L344.90,262.26L345.90,262.26L345.90,263.48L346.90,263.48L346.90,266.86L347.90,266.86L347.90,268.98L348.90,268.98L348.90,271.72L349.90,271.72L349.90,273.15L350.90,273.15L350.90,275.65L351.90,275.65L351.90,279.24L352.90,279.24L352.90,282.38L353.90,282.38L353.90,286.09L354.90,286.09L354.90,289.14L355.90,289.14L355.90,291.59L356.90,291.59L356.90,294.87L357.90,294.87L357.90,296.94L358.90,296.94L358.90,298.59L359.90,298.59L359.90,300.07L360.90,300.07L360.90,301.24L361.90,301.24L361.90,302.94L362.90,302.94L362.90,304.17L363.90,304.17L363.90,304.61L364.90,304.61L364.90,305.59L365.90,305.59L365.90,305.27L366.90,305.27L366.90,305.84L367.90,305.84L367.90,305.81L368.90,305.81L368.90,306.29L369.90,306.29L369.90,306.42L370.90,306.42L370.90,306.58L371.90,306.58L371.90,306.63L372.90,306.63L372.90,307.14L373.90,307.14L373.90,307.16L374.90,307.16L374.90,306.63L375.90,306.63L375.90,306.92L376.90,306.92L376.90,307.23L377.90,307.23L377.90,307.32L378.90,307.32L378.90,307.43L379.90,307.43L379.90,306.78L380.90,306.78L380.90,307.46L381.90,307.46L381.90,307.68L382.90,307.68L382.90,307.92L383.90,307.92L383.90,308.35L384.90,308.35L384.90,307.98L385.90,307.98L385.90,307.86L386.90,307.86L386.90,308.05L387.90,308.05L387.90,308.28L388.90,308.28L388.90,308.54L389.90,308.54L389.90,308.73L390.90,308.73L390.90,308.60L391.90,308.60L391.90,308.76L392.90,308.76L392.90,308.95L393.90,308.95L393.90,308.60L394.90,308.60L394.90,309.07L395.90,309.07L395.90,309.09L396.90,309.09L396.90,309.43L397.90,309.43L397.90,308.94L398.90,308.94L398.90,309.28L399.90,309.28L399.90,309.36L400.90,309.36L400.90,309.43L401.90,309.43L401.90,309.69L402.90,309.69L402.90,309.78L403.90,309.78L403.90,309.80L404.90,309.80L404.90,310.02L405.90,310.02L405.90,310.04L406.90,310.04L406.90,310.11L407.90,310.11L407.90,310.27L408.90,310.27L408.90,310.38L409.90,310.38L409.90,310.50L410.00,310.50L410.00,310.50" fill="none" stroke="#c4c4c4" stroke-width="1.6" clip-path="url(#c4)"/><path d="M362.00,310.50L362.00,309.58L363.00,309.58L363.00,307.20L364.00,307.20L364.00,304.87L365.00,304.87L365.00,303.17L366.00,303.17L366.00,297.59L367.00,297.59L367.00,291.03L368.00,291.03L368.00,284.71L369.00,284.71L369.00,278.60L370.00,278.60L370.00,277.84L371.00,277.84L371.00,276.42L372.00,276.42L372.00,273.49L373.00,273.49L373.00,272.05L374.00,272.05L374.00,269.64L375.00,269.64L375.00,267.23L376.00,267.23L376.00,264.08L377.00,264.08L377.00,259.74L378.00,259.74L378.00,251.17L379.00,251.17L379.00,247.28L380.00,247.28L380.00,243.77L381.00,243.77L381.00,242.14L382.00,242.14L382.00,239.30L383.00,239.30L383.00,238.05L384.00,238.05L384.00,237.35L385.00,237.35L385.00,235.49L386.00,235.49L386.00,233.70L387.00,233.70L387.00,233.14L388.00,233.14L388.00,232.70L389.00,232.70L389.00,233.73L390.00,233.73L390.00,236.54L391.00,236.54L391.00,235.27L392.00,235.27L392.00,245.39L393.00,245.39L393.00,246.83L394.00,246.83L394.00,250.50L395.00,250.50L395.00,251.33L396.00,251.33L396.00,257.68L397.00,257.68L397.00,261.93L398.00,261.93L398.00,265.60L399.00,265.60L399.00,272.51L400.00,272.51L400.00,275.41L401.00,275.41L401.00,280.10L402.00,280.10L402.00,282.60L403.00,282.60L403.00,285.09L404.00,285.09L404.00,288.51L405.00,288.51L405.00,291.24L406.00,291.24L406.00,294.36L407.00,294.36L407.00,297.15L408.00,297.15L408.00,297.72L409.00,297.72L409.00,299.54L410.00,299.54L410.00,299.75L411.00,299.75L411.00,301.90L412.00,301.90L412.00,302.75L413.00,302.75L413.00,303.55L414.00,303.55L414.00,303.76L415.00,303.76L415.00,304.73L416.00,304.73L416.00,304.77L417.00,304.77L417.00,305.58L418.00,305.58L418.00,305.73L419.00,305.73L419.00,306.40L420.00,306.40L420.00,307.02L421.00,307.02L421.00,307.53L422.00,307.53L422.00,307.32L423.00,307.32L423.00,307.50L424.00,307.50L424.00,307.38L425.00,307.38L425.00,307.91L426.00,307.91L426.00,307.84L427.00,307.84L427.00,307.97L428.00,307.97L428.00,308.13L429.00,308.13L429.00,308.27L430.00,308.27L430.00,308.39L431.00,308.39L431.00,308.64L432.00,308.64L432.00,308.81L433.00,308.81L433.00,308.80L434.00,308.80L434.00,308.74L435.00,308.74L435.00,308.70L436.00,308.70L436.00,308.87L437.00,308.87L437.00,308.96L438.00,308.96L438.00,309.09L439.00,309.09L439.00,309.20L440.00,309.20L440.00,309.36L441.00,309.36L441.00,309.38L442.00,309.38L442.00,309.36L443.00,309.36L443.00,309.70L444.00,309.70L444.00,309.83L445.00,309.83L445.00,309.64L446.00,309.64L446.00,309.88L447.00,309.88L447.00,309.89L448.00,309.89L448.00,309.97L449.00,309.97L449.00,310.20L450.00,310.20L450.00,310.02L451.00,310.02L451.00,310.15L452.00,310.15L452.00,310.32L453.00,310.32L453.00,310.37L454.00,310.37L454.00,310.46L455.00,310.46L455.00,310.50" fill="none" stroke="#2a2a2a" stroke-width="1.2" stroke-dasharray="1.5 1.2"/><rect x="310.80" y="202.70" width="199.70" height="107.80" fill="none" stroke="#333" stroke-width="1.5"/><path d="M305.50,310.00H310.80M307.80,305.76H310.80M307.80,301.52H310.80M307.80,297.28H310.80M307.80,293.04H310.80M305.50,288.80H310.80M307.80,284.56H310.80M307.80,280.32H310.80M307.80,276.08H310.80M307.80,271.84H310.80M305.50,267.60H310.80M307.80,263.36H310.80M307.80,259.12H310.80M307.80,254.88H310.80M307.80,250.64H310.80M305.50,246.40H310.80M307.80,242.16H310.80M307.80,237.92H310.80M307.80,233.68H310.80M307.80,229.44H310.80M305.50,225.20H310.80M307.80,220.96H310.80M307.80,216.72H310.80M307.80,212.48H310.80M307.80,208.24H310.80M305.50,204.00H310.80M310.80,310.50V315.70M325.83,310.50V313.50M334.62,310.50V313.50M340.86,310.50V313.50M345.70,310.50V313.50M349.65,310.50V313.50M352.99,310.50V313.50M355.89,310.50V313.50M358.44,310.50V313.50M360.73,310.50V315.70M375.75,310.50V313.50M384.55,310.50V313.50M390.78,310.50V313.50M395.62,310.50V313.50M399.57,310.50V313.50M402.92,310.50V313.50M405.81,310.50V313.50M408.37,310.50V313.50M410.65,310.50V315.70M425.68,310.50V313.50M434.47,310.50V313.50M440.71,310.50V313.50M445.55,310.50V313.50M449.50,310.50V313.50M452.84,310.50V313.50M455.74,310.50V313.50M458.29,310.50V313.50M460.57,310.50V315.70M475.60,310.50V313.50M484.40,310.50V313.50M490.63,310.50V313.50M495.47,310.50V313.50M499.42,310.50V313.50M502.77,310.50V313.50M505.66,310.50V313.50M508.22,310.50V313.50M510.50,310.50V315.50" stroke="#222" stroke-width="1.1" fill="none"/><text x="301.70" y="310.00" font-size="10" font-weight="normal" text-anchor="middle" transform="rotate(-90 301.70 310.00)">0</text><text x="301.70" y="288.80" font-size="10" font-weight="normal" text-anchor="middle" transform="rotate(-90 301.70 288.80)">20</text><text x="301.70" y="267.60" font-size="10" font-weight="normal" text-anchor="middle" transform="rotate(-90 301.70 267.60)">40</text><text x="301.70" y="246.40" font-size="10" font-weight="normal" text-anchor="middle" transform="rotate(-90 301.70 246.40)">60</text><text x="301.70" y="225.20" font-size="10" font-weight="normal" text-anchor="middle" transform="rotate(-90 301.70 225.20)">80</text><text x="301.70" y="204.00" font-size="10" font-weight="normal" text-anchor="middle" transform="rotate(-90 301.70 204.00)">100</text><text x="291.00" y="259.10" font-size="10" font-weight="normal" text-anchor="middle" transform="rotate(-90 291.00 259.10)">Counts</text><text x="306.80" y="327.10" font-size="10" letter-spacing="-0.7" text-anchor="middle">10</text><text x="315.30" y="321.30" font-size="10" text-anchor="middle">0</text><text x="356.73" y="327.10" font-size="10" letter-spacing="-0.7" text-anchor="middle">10</text><text x="365.23" y="321.30" font-size="10" text-anchor="middle">1</text><text x="406.65" y="327.10" font-size="10" letter-spacing="-0.7" text-anchor="middle">10</text><text x="415.15" y="321.30" font-size="10" text-anchor="middle">2</text><text x="456.57" y="327.10" font-size="10" letter-spacing="-0.7" text-anchor="middle">10</text><text x="465.07" y="321.30" font-size="10" text-anchor="middle">3</text><text x="506.50" y="327.10" font-size="10" letter-spacing="-0.7" text-anchor="middle">10</text><text x="515.00" y="321.30" font-size="10" text-anchor="middle">4</text><text x="409.15" y="337.30" font-size="10" font-weight="normal" text-anchor="middle">FL2-H</text><text x="445.50" y="219.70" font-size="13.4" font-weight="bold" text-anchor="start" style="stroke:none">CD 83</text></g></svg></body></html>
